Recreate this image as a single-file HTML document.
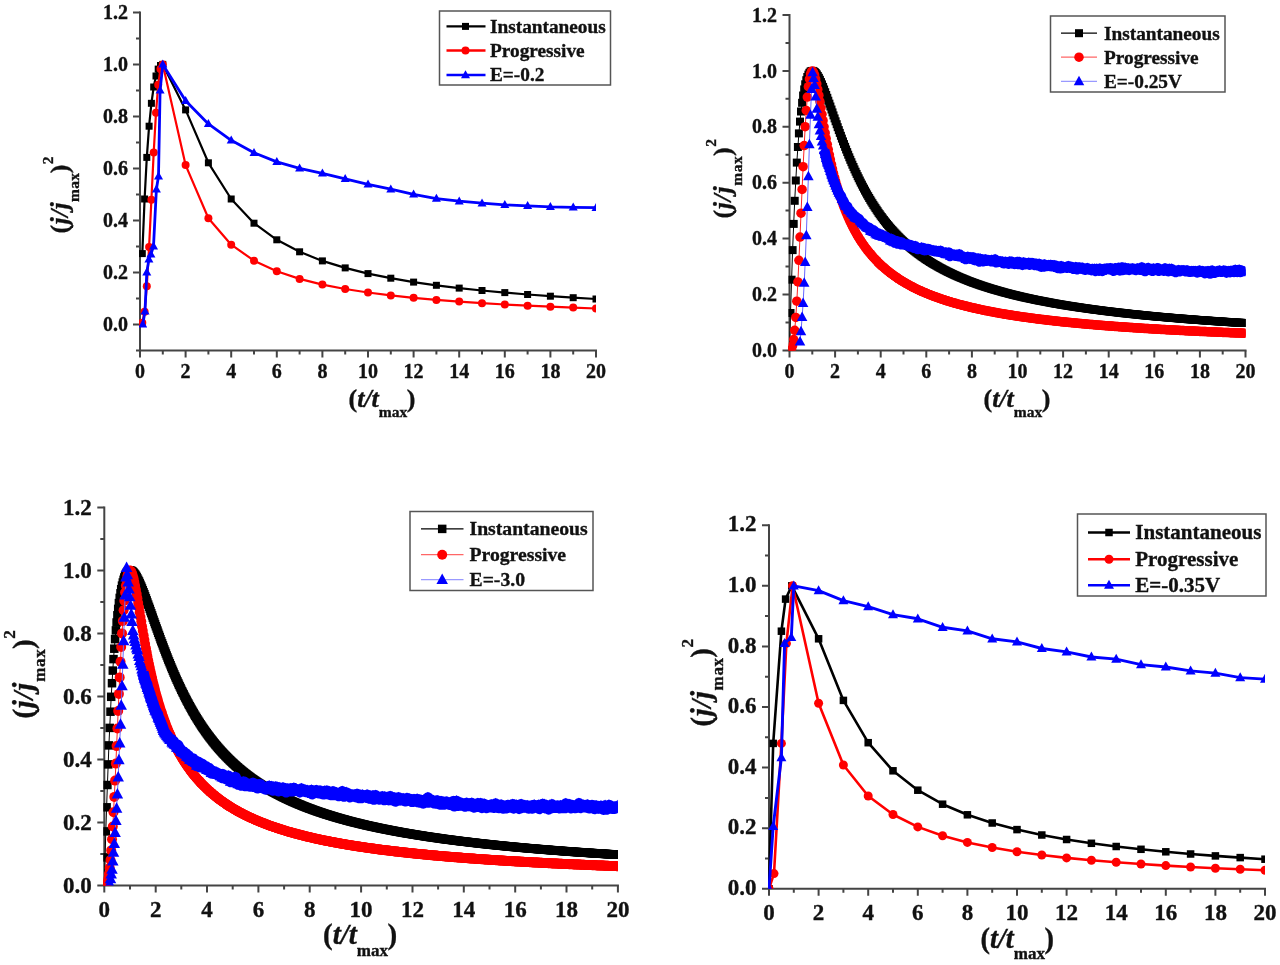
<!DOCTYPE html>
<html><head><meta charset="utf-8"><style>
html,body{margin:0;padding:0;background:#fff;width:1280px;height:965px;overflow:hidden}
svg{display:block;filter:blur(0.5px)}
text{fill:#111;stroke:#111;stroke-width:0.35px}
</style></head><body>
<svg width="1280" height="965" viewBox="0 0 1280 965">
<rect width="1280" height="965" fill="#fff"/>
<marker id="sq1" markerUnits="userSpaceOnUse" markerWidth="9" markerHeight="9" refX="4.5" refY="4.5" overflow="visible"><rect x="1" y="1" width="7" height="7" fill="#000"/></marker><marker id="ci1" markerUnits="userSpaceOnUse" markerWidth="10" markerHeight="10" refX="5.0" refY="5.0" overflow="visible"><circle cx="5.0" cy="5.0" r="4.0" fill="#f00"/></marker><marker id="tr1" markerUnits="userSpaceOnUse" markerWidth="11" markerHeight="10" refX="5.5" refY="5.8" overflow="visible"><path d="M5.5,1 L10,9 L1,9Z" fill="#00f"/></marker><path d="M140,11.399999999999977 V350.4 H597.0" fill="none" stroke="#444" stroke-width="2"/><path d="M140,324.4h-7 M140,298.4h-4 M140,272.4h-7 M140,246.4h-4 M140,220.4h-7 M140,194.4h-4 M140,168.4h-7 M140,142.4h-4 M140,116.4h-7 M140,90.4h-4 M140,64.4h-7 M140,38.4h-4 M140,12.4h-7 M140,350.4h-4 M140.0,350.4v7 M162.8,350.4v4 M185.6,350.4v7 M208.4,350.4v4 M231.2,350.4v7 M254.0,350.4v4 M276.8,350.4v7 M299.6,350.4v4 M322.4,350.4v7 M345.2,350.4v4 M368.0,350.4v7 M390.8,350.4v4 M413.6,350.4v7 M436.4,350.4v4 M459.2,350.4v7 M482.0,350.4v4 M504.8,350.4v7 M527.6,350.4v4 M550.4,350.4v7 M573.2,350.4v4 M596.0,350.4v7" stroke="#444" stroke-width="2" fill="none"/><text x="128" y="331.0" text-anchor="end" style="font-family:'Liberation Serif',serif;font-weight:bold;font-size:20px">0.0</text><text x="128" y="279.0" text-anchor="end" style="font-family:'Liberation Serif',serif;font-weight:bold;font-size:20px">0.2</text><text x="128" y="227.0" text-anchor="end" style="font-family:'Liberation Serif',serif;font-weight:bold;font-size:20px">0.4</text><text x="128" y="175.0" text-anchor="end" style="font-family:'Liberation Serif',serif;font-weight:bold;font-size:20px">0.6</text><text x="128" y="123.0" text-anchor="end" style="font-family:'Liberation Serif',serif;font-weight:bold;font-size:20px">0.8</text><text x="128" y="71.0" text-anchor="end" style="font-family:'Liberation Serif',serif;font-weight:bold;font-size:20px">1.0</text><text x="128" y="19.0" text-anchor="end" style="font-family:'Liberation Serif',serif;font-weight:bold;font-size:20px">1.2</text><text x="140.0" y="377.9" text-anchor="middle" style="font-family:'Liberation Serif',serif;font-weight:bold;font-size:20px">0</text><text x="185.6" y="377.9" text-anchor="middle" style="font-family:'Liberation Serif',serif;font-weight:bold;font-size:20px">2</text><text x="231.2" y="377.9" text-anchor="middle" style="font-family:'Liberation Serif',serif;font-weight:bold;font-size:20px">4</text><text x="276.8" y="377.9" text-anchor="middle" style="font-family:'Liberation Serif',serif;font-weight:bold;font-size:20px">6</text><text x="322.4" y="377.9" text-anchor="middle" style="font-family:'Liberation Serif',serif;font-weight:bold;font-size:20px">8</text><text x="368.0" y="377.9" text-anchor="middle" style="font-family:'Liberation Serif',serif;font-weight:bold;font-size:20px">10</text><text x="413.6" y="377.9" text-anchor="middle" style="font-family:'Liberation Serif',serif;font-weight:bold;font-size:20px">12</text><text x="459.2" y="377.9" text-anchor="middle" style="font-family:'Liberation Serif',serif;font-weight:bold;font-size:20px">14</text><text x="504.8" y="377.9" text-anchor="middle" style="font-family:'Liberation Serif',serif;font-weight:bold;font-size:20px">16</text><text x="550.4" y="377.9" text-anchor="middle" style="font-family:'Liberation Serif',serif;font-weight:bold;font-size:20px">18</text><text x="596.0" y="377.9" text-anchor="middle" style="font-family:'Liberation Serif',serif;font-weight:bold;font-size:20px">20</text><text x="348.5" y="406.5" style="font-family:'Liberation Serif',serif;font-weight:bold;font-size:26px">(<tspan style="font-style:italic">t/t</tspan><tspan dy="10.5" style="font-size:15.5px">max</tspan><tspan dy="-10.5" dx="-0.5">)</tspan></text><text transform="translate(68,233.5) rotate(-90)" style="font-family:'Liberation Serif',serif;font-weight:bold;font-size:26px;letter-spacing:0.3px">(<tspan style="font-style:italic">j/j</tspan><tspan dy="10.5" style="font-size:15.5px">max</tspan><tspan dy="-10.5" dx="-0.5">)</tspan><tspan dy="-15" style="font-size:15.5px">2</tspan></text><clipPath id="cp1"><rect x="139" y="12.399999999999977" width="457.0" height="338.0"/></clipPath><g clip-path="url(#cp1)"><polyline points="142.3,253.6 144.6,199.0 146.8,157.4 149.1,126.2 151.4,103.3 153.7,87.0 156.0,76.0 158.2,69.1 160.5,65.5 162.8,64.4 185.6,109.9 208.4,162.8 231.2,199.0 254.0,223.2 276.8,239.8 299.6,251.8 322.4,260.9 345.2,267.9 368.0,273.6 390.8,278.2 413.6,282.1 436.4,285.3 459.2,288.1 482.0,290.5 504.8,292.6 527.6,294.5 550.4,296.2 573.2,297.7 596.0,299.0" fill="none" stroke="#000" stroke-width="2.2" stroke-linejoin="round" marker-start="url(#sq1)" marker-mid="url(#sq1)" marker-end="url(#sq1)"/><polyline points="142.3,322.7 144.6,311.7 146.8,286.2 149.1,246.9 151.4,199.7 153.7,152.6 156.0,112.8 158.2,84.7 160.5,69.0 162.8,64.4 185.6,165.1 208.4,218.2 231.2,244.7 254.0,260.7 276.8,271.3 299.6,278.9 322.4,284.6 345.2,289.0 368.0,292.5 390.8,295.4 413.6,297.8 436.4,299.9 459.2,301.6 482.0,303.2 504.8,304.5 527.6,305.7 550.4,306.7 573.2,307.6 596.0,308.5" fill="none" stroke="#f00" stroke-width="2.2" stroke-linejoin="round" marker-start="url(#ci1)" marker-mid="url(#ci1)" marker-end="url(#ci1)"/><polyline points="142.7,324.4 145.0,311.4 146.8,272.4 148.9,259.4 150.9,254.2 153.5,246.4 156.4,189.2 158.5,176.2 160.1,90.4 162.8,64.4 185.6,100.8 208.4,123.9 231.2,140.3 254.0,152.8 276.8,161.9 299.6,168.4 322.4,173.3 345.2,178.8 368.0,184.3 390.8,189.2 413.6,194.4 436.4,198.6 459.2,201.2 482.0,203.2 504.8,204.8 527.6,205.8 550.4,206.9 573.2,207.4 596.0,207.7" fill="none" stroke="#00f" stroke-width="2.8" stroke-linejoin="round" marker-start="url(#tr1)" marker-mid="url(#tr1)" marker-end="url(#tr1)"/></g><rect x="439.5" y="11" width="171.0" height="74" fill="#fff" stroke="#555" stroke-width="1.5"/><path d="M446.5,26.4 H485.5" stroke="#000" stroke-width="2.4"/><polyline points="465.5,26.4 465.5,26.4" fill="none" stroke="none" marker-start="url(#sq1)"/><text x="490" y="32.8" style="font-family:'Liberation Serif',serif;font-weight:bold;font-size:19.3px">Instantaneous</text><path d="M446.5,50.5 H485.5" stroke="#f00" stroke-width="2.4"/><polyline points="465.5,50.5 465.5,50.5" fill="none" stroke="none" marker-start="url(#ci1)"/><text x="490" y="56.9" style="font-family:'Liberation Serif',serif;font-weight:bold;font-size:19.3px">Progressive</text><path d="M446.5,75 H485.5" stroke="#00f" stroke-width="2.4"/><polyline points="465.5,75 465.5,75" fill="none" stroke="none" marker-start="url(#tr1)"/><text x="490" y="81.4" style="font-family:'Liberation Serif',serif;font-weight:bold;font-size:19.3px">E=-0.2</text><marker id="sq2" markerUnits="userSpaceOnUse" markerWidth="10" markerHeight="10" refX="5.0" refY="5.0" overflow="visible"><rect x="1" y="1" width="8" height="8" fill="#000"/></marker><marker id="ci2" markerUnits="userSpaceOnUse" markerWidth="11.5" markerHeight="11.5" refX="5.75" refY="5.75" overflow="visible"><circle cx="5.75" cy="5.75" r="4.75" fill="#f00"/></marker><marker id="tr2" markerUnits="userSpaceOnUse" markerWidth="12.5" markerHeight="11.5" refX="6.25" refY="6.7" overflow="visible"><path d="M6.25,1 L11.5,10.5 L1,10.5Z" fill="#00f"/></marker><path d="M789.5,14.0 V350.4 H1246.5" fill="none" stroke="#444" stroke-width="2"/><path d="M789.5,350.4h-7 M789.5,322.4h-4 M789.5,294.5h-7 M789.5,266.5h-4 M789.5,238.6h-7 M789.5,210.6h-4 M789.5,182.7h-7 M789.5,154.7h-4 M789.5,126.8h-7 M789.5,98.8h-4 M789.5,70.9h-7 M789.5,42.9h-4 M789.5,15.0h-7 M789.5,350.4v7 M812.3,350.4v4 M835.1,350.4v7 M857.9,350.4v4 M880.7,350.4v7 M903.5,350.4v4 M926.3,350.4v7 M949.1,350.4v4 M971.9,350.4v7 M994.7,350.4v4 M1017.5,350.4v7 M1040.3,350.4v4 M1063.1,350.4v7 M1085.9,350.4v4 M1108.7,350.4v7 M1131.5,350.4v4 M1154.3,350.4v7 M1177.1,350.4v4 M1199.9,350.4v7 M1222.7,350.4v4 M1245.5,350.4v7" stroke="#444" stroke-width="2" fill="none"/><text x="777.0" y="357.0" text-anchor="end" style="font-family:'Liberation Serif',serif;font-weight:bold;font-size:20px">0.0</text><text x="777.0" y="301.1" text-anchor="end" style="font-family:'Liberation Serif',serif;font-weight:bold;font-size:20px">0.2</text><text x="777.0" y="245.2" text-anchor="end" style="font-family:'Liberation Serif',serif;font-weight:bold;font-size:20px">0.4</text><text x="777.0" y="189.3" text-anchor="end" style="font-family:'Liberation Serif',serif;font-weight:bold;font-size:20px">0.6</text><text x="777.0" y="133.4" text-anchor="end" style="font-family:'Liberation Serif',serif;font-weight:bold;font-size:20px">0.8</text><text x="777.0" y="77.5" text-anchor="end" style="font-family:'Liberation Serif',serif;font-weight:bold;font-size:20px">1.0</text><text x="777.0" y="21.6" text-anchor="end" style="font-family:'Liberation Serif',serif;font-weight:bold;font-size:20px">1.2</text><text x="789.5" y="378.4" text-anchor="middle" style="font-family:'Liberation Serif',serif;font-weight:bold;font-size:20px">0</text><text x="835.1" y="378.4" text-anchor="middle" style="font-family:'Liberation Serif',serif;font-weight:bold;font-size:20px">2</text><text x="880.7" y="378.4" text-anchor="middle" style="font-family:'Liberation Serif',serif;font-weight:bold;font-size:20px">4</text><text x="926.3" y="378.4" text-anchor="middle" style="font-family:'Liberation Serif',serif;font-weight:bold;font-size:20px">6</text><text x="971.9" y="378.4" text-anchor="middle" style="font-family:'Liberation Serif',serif;font-weight:bold;font-size:20px">8</text><text x="1017.5" y="378.4" text-anchor="middle" style="font-family:'Liberation Serif',serif;font-weight:bold;font-size:20px">10</text><text x="1063.1" y="378.4" text-anchor="middle" style="font-family:'Liberation Serif',serif;font-weight:bold;font-size:20px">12</text><text x="1108.7" y="378.4" text-anchor="middle" style="font-family:'Liberation Serif',serif;font-weight:bold;font-size:20px">14</text><text x="1154.3" y="378.4" text-anchor="middle" style="font-family:'Liberation Serif',serif;font-weight:bold;font-size:20px">16</text><text x="1199.9" y="378.4" text-anchor="middle" style="font-family:'Liberation Serif',serif;font-weight:bold;font-size:20px">18</text><text x="1245.5" y="378.4" text-anchor="middle" style="font-family:'Liberation Serif',serif;font-weight:bold;font-size:20px">20</text><text x="983.5" y="406.5" style="font-family:'Liberation Serif',serif;font-weight:bold;font-size:26px">(<tspan style="font-style:italic">t/t</tspan><tspan dy="10.5" style="font-size:15.5px">max</tspan><tspan dy="-10.5" dx="-0.5">)</tspan></text><text transform="translate(731,218.5) rotate(-90)" style="font-family:'Liberation Serif',serif;font-weight:bold;font-size:26px;letter-spacing:0.6px">(<tspan style="font-style:italic">j/j</tspan><tspan dy="10.5" style="font-size:15.5px">max</tspan><tspan dy="-10.5" dx="-0.5">)</tspan><tspan dy="-15" style="font-size:15.5px">2</tspan></text><clipPath id="cp2"><rect x="788.5" y="15.0" width="457.0" height="335.4"/></clipPath><g clip-path="url(#cp2)"><polyline points="789.5,350.4 790.5,313.0 791.6,279.7 792.6,250.1 793.7,223.9 794.7,200.8 795.8,180.5 796.8,162.6 797.9,147.0 798.9,133.4 800.0,121.6 801.0,111.5 802.1,102.8 803.1,95.5 804.2,89.4 805.2,84.3 806.3,80.2 807.3,77.0 808.4,74.6 809.4,72.8 810.5,71.6 811.5,71.0 812.6,70.9 813.6,71.3 814.7,72.0 815.7,73.0 816.8,74.4 817.8,76.0 818.9,77.8 819.9,79.8 821.0,82.1 822.0,84.4 823.1,86.9 824.1,89.5 825.2,92.2 826.2,95.0 827.3,97.8 828.3,100.7 829.4,103.6 830.4,106.5 831.5,109.5 832.5,112.4 833.5,115.4 834.6,118.4 835.6,121.3 836.7,124.2 837.7,127.2 838.8,130.1 839.8,132.9 840.9,135.8 841.9,138.6 843.0,141.4 844.0,144.1 845.1,146.8 846.1,149.5 847.2,152.1 848.2,154.7 849.3,157.3 850.3,159.8 851.4,162.2 852.4,164.7 853.5,167.0 854.5,169.4 855.6,171.7 856.6,173.9 857.7,176.2 858.7,178.3 859.8,180.5 860.8,182.6 861.9,184.6 862.9,186.7 864.0,188.6 865.0,190.6 866.1,192.5 867.1,194.4 868.2,196.2 869.2,198.0 870.3,199.8 871.3,201.5 872.4,203.2 873.4,204.9 874.5,206.5 875.5,208.1 876.6,209.7 877.6,211.2 878.6,212.8 879.7,214.2 880.7,215.7 881.8,217.1 882.8,218.5 883.9,219.9 884.9,221.3 886.0,222.6 887.0,223.9 888.1,225.2 889.1,226.4 890.2,227.7 891.2,228.9 892.3,230.1 893.3,231.2 894.4,232.4 895.4,233.5 896.5,234.6 897.5,235.7 898.6,236.8 899.6,237.8 900.7,238.9 901.7,239.9 902.8,240.9 903.8,241.9 904.9,242.8 905.9,243.8 907.0,244.7 908.0,245.6 909.1,246.5 910.1,247.4 911.2,248.3 912.2,249.1 913.3,250.0 914.3,250.8 915.4,251.6 916.4,252.4 917.5,253.2 918.5,254.0 919.6,254.8 920.6,255.5 921.6,256.3 922.7,257.0 923.7,257.7 924.8,258.5 925.8,259.2 926.9,259.9 927.9,260.5 929.0,261.2 930.0,261.9 931.1,262.5 932.1,263.2 933.2,263.8 934.2,264.4 935.3,265.0 936.3,265.6 937.4,266.2 938.4,266.8 939.5,267.4 940.5,268.0 941.6,268.5 942.6,269.1 943.7,269.7 944.7,270.2 945.8,270.7 946.8,271.3 947.9,271.8 948.9,272.3 950.0,272.8 951.0,273.3 952.1,273.8 953.1,274.3 954.2,274.8 955.2,275.3 956.3,275.7 957.3,276.2 958.4,276.7 959.4,277.1 960.5,277.6 961.5,278.0 962.6,278.4 963.6,278.9 964.6,279.3 965.7,279.7 966.7,280.1 967.8,280.6 968.8,281.0 969.9,281.4 970.9,281.8 972.0,282.2 973.0,282.6 974.1,282.9 975.1,283.3 976.2,283.7 977.2,284.1 978.3,284.4 979.3,284.8 980.4,285.2 981.4,285.5 982.5,285.9 983.5,286.2 984.6,286.6 985.6,286.9 986.7,287.2 987.7,287.6 988.8,287.9 989.8,288.2 990.9,288.6 991.9,288.9 993.0,289.2 994.0,289.5 995.1,289.8 996.1,290.1 997.2,290.4 998.2,290.7 999.3,291.0 1000.3,291.3 1001.4,291.6 1002.4,291.9 1003.5,292.2 1004.5,292.5 1005.6,292.8 1006.6,293.0 1007.7,293.3 1008.7,293.6 1009.7,293.9 1010.8,294.1 1011.8,294.4 1012.9,294.7 1013.9,294.9 1015.0,295.2 1016.0,295.4 1017.1,295.7 1018.1,295.9 1019.2,296.2 1020.2,296.4 1021.3,296.7 1022.3,296.9 1023.4,297.2 1024.4,297.4 1025.5,297.6 1026.5,297.9 1027.6,298.1 1028.6,298.3 1029.7,298.5 1030.7,298.8 1031.8,299.0 1032.8,299.2 1033.9,299.4 1034.9,299.7 1036.0,299.9 1037.0,300.1 1038.1,300.3 1039.1,300.5 1040.2,300.7 1041.2,300.9 1042.3,301.1 1043.3,301.3 1044.4,301.5 1045.4,301.7 1046.5,301.9 1047.5,302.1 1048.6,302.3 1049.6,302.5 1050.7,302.7 1051.7,302.9 1052.7,303.1 1053.8,303.3 1054.8,303.5 1055.9,303.7 1056.9,303.8 1058.0,304.0 1059.0,304.2 1060.1,304.4 1061.1,304.6 1062.2,304.7 1063.2,304.9 1064.3,305.1 1065.3,305.3 1066.4,305.4 1067.4,305.6 1068.5,305.8 1069.5,305.9 1070.6,306.1 1071.6,306.3 1072.7,306.4 1073.7,306.6 1074.8,306.7 1075.8,306.9 1076.9,307.1 1077.9,307.2 1079.0,307.4 1080.0,307.5 1081.1,307.7 1082.1,307.8 1083.2,308.0 1084.2,308.1 1085.3,308.3 1086.3,308.4 1087.4,308.6 1088.4,308.7 1089.5,308.9 1090.5,309.0 1091.6,309.2 1092.6,309.3 1093.7,309.5 1094.7,309.6 1095.7,309.7 1096.8,309.9 1097.8,310.0 1098.9,310.1 1099.9,310.3 1101.0,310.4 1102.0,310.6 1103.1,310.7 1104.1,310.8 1105.2,311.0 1106.2,311.1 1107.3,311.2 1108.3,311.3 1109.4,311.5 1110.4,311.6 1111.5,311.7 1112.5,311.8 1113.6,312.0 1114.6,312.1 1115.7,312.2 1116.7,312.3 1117.8,312.5 1118.8,312.6 1119.9,312.7 1120.9,312.8 1122.0,312.9 1123.0,313.1 1124.1,313.2 1125.1,313.3 1126.2,313.4 1127.2,313.5 1128.3,313.6 1129.3,313.8 1130.4,313.9 1131.4,314.0 1132.5,314.1 1133.5,314.2 1134.6,314.3 1135.6,314.4 1136.7,314.5 1137.7,314.6 1138.8,314.7 1139.8,314.8 1140.8,315.0 1141.9,315.1 1142.9,315.2 1144.0,315.3 1145.0,315.4 1146.1,315.5 1147.1,315.6 1148.2,315.7 1149.2,315.8 1150.3,315.9 1151.3,316.0 1152.4,316.1 1153.4,316.2 1154.5,316.3 1155.5,316.4 1156.6,316.5 1157.6,316.6 1158.7,316.7 1159.7,316.8 1160.8,316.9 1161.8,317.0 1162.9,317.0 1163.9,317.1 1165.0,317.2 1166.0,317.3 1167.1,317.4 1168.1,317.5 1169.2,317.6 1170.2,317.7 1171.3,317.8 1172.3,317.9 1173.4,318.0 1174.4,318.0 1175.5,318.1 1176.5,318.2 1177.6,318.3 1178.6,318.4 1179.7,318.5 1180.7,318.6 1181.8,318.7 1182.8,318.7 1183.8,318.8 1184.9,318.9 1185.9,319.0 1187.0,319.1 1188.0,319.2 1189.1,319.2 1190.1,319.3 1191.2,319.4 1192.2,319.5 1193.3,319.6 1194.3,319.6 1195.4,319.7 1196.4,319.8 1197.5,319.9 1198.5,320.0 1199.6,320.0 1200.6,320.1 1201.7,320.2 1202.7,320.3 1203.8,320.3 1204.8,320.4 1205.9,320.5 1206.9,320.6 1208.0,320.6 1209.0,320.7 1210.1,320.8 1211.1,320.9 1212.2,320.9 1213.2,321.0 1214.3,321.1 1215.3,321.2 1216.4,321.2 1217.4,321.3 1218.5,321.4 1219.5,321.4 1220.6,321.5 1221.6,321.6 1222.7,321.6 1223.7,321.7 1224.8,321.8 1225.8,321.9 1226.8,321.9 1227.9,322.0 1228.9,322.1 1230.0,322.1 1231.0,322.2 1232.1,322.3 1233.1,322.3 1234.2,322.4 1235.2,322.5 1236.3,322.5 1237.3,322.6 1238.4,322.7 1239.4,322.7 1240.5,322.8 1241.5,322.9 1242.6,322.9 1243.6,323.0 1244.7,323.0" fill="none" stroke="#000" stroke-width="1" stroke-linejoin="round" marker-start="url(#sq2)" marker-mid="url(#sq2)" marker-end="url(#sq2)"/><polyline points="789.5,350.4 790.5,350.2 791.6,349.0 792.6,345.7 793.7,339.6 794.7,330.3 795.8,317.4 796.8,301.2 797.9,281.9 798.9,260.3 800.0,237.1 801.0,213.2 802.1,189.4 803.1,166.7 804.2,145.6 805.2,126.7 806.3,110.5 807.3,97.1 808.4,86.7 809.4,79.0 810.5,74.0 811.5,71.4 812.6,71.0 813.6,72.3 814.7,75.1 815.7,79.1 816.8,83.9 817.8,89.4 818.9,95.4 819.9,101.6 821.0,108.0 822.0,114.3 823.1,120.7 824.1,126.8 825.2,132.9 826.2,138.7 827.3,144.3 828.3,149.6 829.4,154.8 830.4,159.7 831.5,164.4 832.5,168.9 833.5,173.2 834.6,177.3 835.6,181.2 836.7,185.0 837.7,188.5 838.8,192.0 839.8,195.3 840.9,198.5 841.9,201.5 843.0,204.4 844.0,207.2 845.1,209.9 846.1,212.5 847.2,215.0 848.2,217.4 849.3,219.8 850.3,222.0 851.4,224.2 852.4,226.3 853.5,228.3 854.5,230.3 855.6,232.2 856.6,234.1 857.7,235.9 858.7,237.6 859.8,239.3 860.8,240.9 861.9,242.5 862.9,244.0 864.0,245.5 865.0,247.0 866.1,248.4 867.1,249.8 868.2,251.1 869.2,252.4 870.3,253.7 871.3,254.9 872.4,256.2 873.4,257.3 874.5,258.5 875.5,259.6 876.6,260.7 877.6,261.8 878.6,262.8 879.7,263.8 880.7,264.8 881.8,265.8 882.8,266.7 883.9,267.7 884.9,268.6 886.0,269.5 887.0,270.3 888.1,271.2 889.1,272.0 890.2,272.8 891.2,273.6 892.3,274.4 893.3,275.2 894.4,275.9 895.4,276.7 896.5,277.4 897.5,278.1 898.6,278.8 899.6,279.5 900.7,280.2 901.7,280.8 902.8,281.5 903.8,282.1 904.9,282.7 905.9,283.3 907.0,283.9 908.0,284.5 909.1,285.1 910.1,285.7 911.2,286.2 912.2,286.8 913.3,287.3 914.3,287.8 915.4,288.4 916.4,288.9 917.5,289.4 918.5,289.9 919.6,290.4 920.6,290.8 921.6,291.3 922.7,291.8 923.7,292.2 924.8,292.7 925.8,293.1 926.9,293.6 927.9,294.0 929.0,294.4 930.0,294.8 931.1,295.2 932.1,295.7 933.2,296.1 934.2,296.4 935.3,296.8 936.3,297.2 937.4,297.6 938.4,298.0 939.5,298.3 940.5,298.7 941.6,299.1 942.6,299.4 943.7,299.7 944.7,300.1 945.8,300.4 946.8,300.8 947.9,301.1 948.9,301.4 950.0,301.7 951.0,302.1 952.1,302.4 953.1,302.7 954.2,303.0 955.2,303.3 956.3,303.6 957.3,303.9 958.4,304.2 959.4,304.4 960.5,304.7 961.5,305.0 962.6,305.3 963.6,305.5 964.6,305.8 965.7,306.1 966.7,306.3 967.8,306.6 968.8,306.9 969.9,307.1 970.9,307.4 972.0,307.6 973.0,307.9 974.1,308.1 975.1,308.3 976.2,308.6 977.2,308.8 978.3,309.0 979.3,309.3 980.4,309.5 981.4,309.7 982.5,309.9 983.5,310.2 984.6,310.4 985.6,310.6 986.7,310.8 987.7,311.0 988.8,311.2 989.8,311.4 990.9,311.6 991.9,311.8 993.0,312.0 994.0,312.2 995.1,312.4 996.1,312.6 997.2,312.8 998.2,313.0 999.3,313.2 1000.3,313.4 1001.4,313.5 1002.4,313.7 1003.5,313.9 1004.5,314.1 1005.6,314.3 1006.6,314.4 1007.7,314.6 1008.7,314.8 1009.7,314.9 1010.8,315.1 1011.8,315.3 1012.9,315.4 1013.9,315.6 1015.0,315.8 1016.0,315.9 1017.1,316.1 1018.1,316.2 1019.2,316.4 1020.2,316.6 1021.3,316.7 1022.3,316.9 1023.4,317.0 1024.4,317.2 1025.5,317.3 1026.5,317.5 1027.6,317.6 1028.6,317.7 1029.7,317.9 1030.7,318.0 1031.8,318.2 1032.8,318.3 1033.9,318.4 1034.9,318.6 1036.0,318.7 1037.0,318.9 1038.1,319.0 1039.1,319.1 1040.2,319.2 1041.2,319.4 1042.3,319.5 1043.3,319.6 1044.4,319.8 1045.4,319.9 1046.5,320.0 1047.5,320.1 1048.6,320.3 1049.6,320.4 1050.7,320.5 1051.7,320.6 1052.7,320.7 1053.8,320.9 1054.8,321.0 1055.9,321.1 1056.9,321.2 1058.0,321.3 1059.0,321.4 1060.1,321.5 1061.1,321.7 1062.2,321.8 1063.2,321.9 1064.3,322.0 1065.3,322.1 1066.4,322.2 1067.4,322.3 1068.5,322.4 1069.5,322.5 1070.6,322.6 1071.6,322.7 1072.7,322.8 1073.7,322.9 1074.8,323.0 1075.8,323.1 1076.9,323.2 1077.9,323.3 1079.0,323.4 1080.0,323.5 1081.1,323.6 1082.1,323.7 1083.2,323.8 1084.2,323.9 1085.3,324.0 1086.3,324.1 1087.4,324.2 1088.4,324.3 1089.5,324.4 1090.5,324.5 1091.6,324.5 1092.6,324.6 1093.7,324.7 1094.7,324.8 1095.7,324.9 1096.8,325.0 1097.8,325.1 1098.9,325.2 1099.9,325.2 1101.0,325.3 1102.0,325.4 1103.1,325.5 1104.1,325.6 1105.2,325.7 1106.2,325.7 1107.3,325.8 1108.3,325.9 1109.4,326.0 1110.4,326.1 1111.5,326.1 1112.5,326.2 1113.6,326.3 1114.6,326.4 1115.7,326.5 1116.7,326.5 1117.8,326.6 1118.8,326.7 1119.9,326.8 1120.9,326.8 1122.0,326.9 1123.0,327.0 1124.1,327.1 1125.1,327.1 1126.2,327.2 1127.2,327.3 1128.3,327.3 1129.3,327.4 1130.4,327.5 1131.4,327.6 1132.5,327.6 1133.5,327.7 1134.6,327.8 1135.6,327.8 1136.7,327.9 1137.7,328.0 1138.8,328.0 1139.8,328.1 1140.8,328.2 1141.9,328.2 1142.9,328.3 1144.0,328.4 1145.0,328.4 1146.1,328.5 1147.1,328.6 1148.2,328.6 1149.2,328.7 1150.3,328.8 1151.3,328.8 1152.4,328.9 1153.4,328.9 1154.5,329.0 1155.5,329.1 1156.6,329.1 1157.6,329.2 1158.7,329.2 1159.7,329.3 1160.8,329.4 1161.8,329.4 1162.9,329.5 1163.9,329.5 1165.0,329.6 1166.0,329.7 1167.1,329.7 1168.1,329.8 1169.2,329.8 1170.2,329.9 1171.3,329.9 1172.3,330.0 1173.4,330.1 1174.4,330.1 1175.5,330.2 1176.5,330.2 1177.6,330.3 1178.6,330.3 1179.7,330.4 1180.7,330.4 1181.8,330.5 1182.8,330.5 1183.8,330.6 1184.9,330.7 1185.9,330.7 1187.0,330.8 1188.0,330.8 1189.1,330.9 1190.1,330.9 1191.2,331.0 1192.2,331.0 1193.3,331.1 1194.3,331.1 1195.4,331.2 1196.4,331.2 1197.5,331.3 1198.5,331.3 1199.6,331.4 1200.6,331.4 1201.7,331.5 1202.7,331.5 1203.8,331.6 1204.8,331.6 1205.9,331.6 1206.9,331.7 1208.0,331.7 1209.0,331.8 1210.1,331.8 1211.1,331.9 1212.2,331.9 1213.2,332.0 1214.3,332.0 1215.3,332.1 1216.4,332.1 1217.4,332.2 1218.5,332.2 1219.5,332.2 1220.6,332.3 1221.6,332.3 1222.7,332.4 1223.7,332.4 1224.8,332.5 1225.8,332.5 1226.8,332.5 1227.9,332.6 1228.9,332.6 1230.0,332.7 1231.0,332.7 1232.1,332.8 1233.1,332.8 1234.2,332.8 1235.2,332.9 1236.3,332.9 1237.3,333.0 1238.4,333.0 1239.4,333.0 1240.5,333.1 1241.5,333.1 1242.6,333.2 1243.6,333.2 1244.7,333.2" fill="none" stroke="#f22" stroke-width="1" stroke-linejoin="round" marker-start="url(#ci2)" marker-mid="url(#ci2)" marker-end="url(#ci2)"/><polyline points="824.1,150.3 825.2,154.2 826.2,158.3 827.3,162.8 828.3,164.8 829.4,168.3 830.4,171.1 831.5,174.8 832.5,177.7 833.5,180.4 834.6,183.1 835.6,185.6 836.7,188.3 837.7,190.7 838.8,193.0 839.8,194.8 840.9,196.0 841.9,199.1 843.0,200.6 844.0,202.6 845.1,205.6 846.1,206.0 847.2,206.6 848.2,209.9 849.3,210.2 850.3,211.4 851.4,213.2 852.4,213.6 853.5,215.3 854.5,217.4 855.6,216.7 856.6,217.7 857.7,218.4 858.7,218.9 859.8,220.6 860.8,221.6 861.9,223.5 862.9,223.1 864.0,224.8 865.0,225.6 866.1,227.0 867.1,227.7 868.2,228.2 869.2,227.8 870.3,230.9 871.3,231.1 872.4,230.5 873.4,230.2 874.5,231.4 875.5,233.7 876.6,234.7 877.6,233.2 878.6,234.6 879.7,235.4 880.7,234.5 881.8,234.9 882.8,236.1 883.9,236.6 884.9,237.1 886.0,236.8 887.0,237.9 888.1,238.3 889.1,238.7 890.2,240.6 891.2,239.0 892.3,239.6 893.3,240.3 894.4,242.4 895.4,241.9 896.5,241.2 897.5,243.5 898.6,242.7 899.6,242.3 900.7,244.3 901.7,242.6 902.8,243.7 903.8,244.4 904.9,244.4 905.9,244.4 907.0,245.1 908.0,244.6 909.1,246.2 910.1,246.3 911.2,245.5 912.2,246.5 913.3,247.4 914.3,246.4 915.4,246.3 916.4,248.0 917.5,248.9 918.5,248.3 919.6,248.5 920.6,248.8 921.6,247.8 922.7,249.6 923.7,248.2 924.8,250.2 925.8,250.0 926.9,249.2 927.9,249.1 929.0,249.4 930.0,250.0 931.1,250.3 932.1,250.5 933.2,250.4 934.2,251.2 935.3,251.0 936.3,251.0 937.4,251.6 938.4,251.3 939.5,251.7 940.5,250.9 941.6,252.3 942.6,253.0 943.7,253.2 944.7,253.2 945.8,252.7 946.8,253.8 947.9,253.5 948.9,252.7 950.0,256.0 951.0,255.2 952.1,254.5 953.1,254.6 954.2,254.9 955.2,255.6 956.3,255.0 957.3,255.5 958.4,256.2 959.4,254.4 960.5,256.0 961.5,256.8 962.6,256.7 963.6,257.0 964.6,257.1 965.7,259.1 966.7,257.8 967.8,256.9 968.8,258.6 969.9,258.0 970.9,257.5 972.0,257.8 973.0,257.5 974.1,259.9 975.1,259.1 976.2,259.3 977.2,258.8 978.3,258.7 979.3,261.5 980.4,259.0 981.4,260.9 982.5,259.6 983.5,261.3 984.6,260.2 985.6,259.6 986.7,260.7 987.7,260.6 988.8,260.2 989.8,260.8 990.9,261.1 991.9,260.1 993.0,260.5 994.0,261.5 995.1,259.5 996.1,262.3 997.2,261.0 998.2,261.9 999.3,261.7 1000.3,261.4 1001.4,261.9 1002.4,261.7 1003.5,263.3 1004.5,263.3 1005.6,261.9 1006.6,263.1 1007.7,263.3 1008.7,263.7 1009.7,261.8 1010.8,262.3 1011.8,261.9 1012.9,263.6 1013.9,263.0 1015.0,263.9 1016.0,262.6 1017.1,262.1 1018.1,263.9 1019.2,262.2 1020.2,262.7 1021.3,263.6 1022.3,264.9 1023.4,262.6 1024.4,263.7 1025.5,264.2 1026.5,263.5 1027.6,263.6 1028.6,262.9 1029.7,264.8 1030.7,263.3 1031.8,263.2 1032.8,263.3 1033.9,264.5 1034.9,265.0 1036.0,263.9 1037.0,264.6 1038.1,264.7 1039.1,263.9 1040.2,265.1 1041.2,266.7 1042.3,265.4 1043.3,266.6 1044.4,264.8 1045.4,265.3 1046.5,266.0 1047.5,265.7 1048.6,265.2 1049.6,265.9 1050.7,265.1 1051.7,266.2 1052.7,265.6 1053.8,265.4 1054.8,265.4 1055.9,267.1 1056.9,266.1 1058.0,268.1 1059.0,267.6 1060.1,268.3 1061.1,266.2 1062.2,267.9 1063.2,267.2 1064.3,267.4 1065.3,267.3 1066.4,267.8 1067.4,267.3 1068.5,266.3 1069.5,267.6 1070.6,267.3 1071.6,267.1 1072.7,268.0 1073.7,268.8 1074.8,268.4 1075.8,267.3 1076.9,269.3 1077.9,268.7 1079.0,267.6 1080.0,267.8 1081.1,268.4 1082.1,267.9 1083.2,268.5 1084.2,269.5 1085.3,269.8 1086.3,269.2 1087.4,268.2 1088.4,269.3 1089.5,269.6 1090.5,269.5 1091.6,270.1 1092.6,269.2 1093.7,269.9 1094.7,268.9 1095.7,270.9 1096.8,269.0 1097.8,269.7 1098.9,270.7 1099.9,268.8 1101.0,269.5 1102.0,270.9 1103.1,270.0 1104.1,269.1 1105.2,269.7 1106.2,268.8 1107.3,268.8 1108.3,268.9 1109.4,269.1 1110.4,268.4 1111.5,268.9 1112.5,269.0 1113.6,270.8 1114.6,268.7 1115.7,268.4 1116.7,269.5 1117.8,269.6 1118.8,267.9 1119.9,270.5 1120.9,268.9 1122.0,267.6 1123.0,269.9 1124.1,268.8 1125.1,267.9 1126.2,269.3 1127.2,268.8 1128.3,268.6 1129.3,269.8 1130.4,269.3 1131.4,269.0 1132.5,268.6 1133.5,269.2 1134.6,269.3 1135.6,269.9 1136.7,269.4 1137.7,268.6 1138.8,269.1 1139.8,269.8 1140.8,269.8 1141.9,267.4 1142.9,268.5 1144.0,268.8 1145.0,271.1 1146.1,268.9 1147.1,269.0 1148.2,268.2 1149.2,269.1 1150.3,269.5 1151.3,269.1 1152.4,270.8 1153.4,268.8 1154.5,269.3 1155.5,270.1 1156.6,268.7 1157.6,268.4 1158.7,270.7 1159.7,270.2 1160.8,269.6 1161.8,269.7 1162.9,270.2 1163.9,270.6 1165.0,268.5 1166.0,269.3 1167.1,270.9 1168.1,271.1 1169.2,269.0 1170.2,269.6 1171.3,269.0 1172.3,269.8 1173.4,271.0 1174.4,270.3 1175.5,272.0 1176.5,271.1 1177.6,270.7 1178.6,270.3 1179.7,271.2 1180.7,270.9 1181.8,270.5 1182.8,270.6 1183.8,270.5 1184.9,270.9 1185.9,271.3 1187.0,270.5 1188.0,271.1 1189.1,271.8 1190.1,271.7 1191.2,271.3 1192.2,271.4 1193.3,271.3 1194.3,271.4 1195.4,271.3 1196.4,271.6 1197.5,272.4 1198.5,271.2 1199.6,270.8 1200.6,271.3 1201.7,271.8 1202.7,271.3 1203.8,272.3 1204.8,273.0 1205.9,271.7 1206.9,272.4 1208.0,271.2 1209.0,272.5 1210.1,273.6 1211.1,272.5 1212.2,270.7 1213.2,272.1 1214.3,272.8 1215.3,272.4 1216.4,271.5 1217.4,271.5 1218.5,271.7 1219.5,270.8 1220.6,271.3 1221.6,271.8 1222.7,271.4 1223.7,270.7 1224.8,271.1 1225.8,271.1 1226.8,272.5 1227.9,271.9 1228.9,271.3 1230.0,272.0 1231.0,271.0 1232.1,271.3 1233.1,271.1 1234.2,271.9 1235.2,270.0 1236.3,270.9 1237.3,271.9 1238.4,271.7 1239.4,269.9 1240.5,271.9 1241.5,271.1 1242.6,271.0 1243.6,271.7 1244.7,272.5" fill="none" stroke="#00f" stroke-width="10.5" stroke-linejoin="round" stroke-linecap="butt"/><polyline points="800.0,341.7 801.0,331.4 802.1,317.3 803.1,303.2 804.2,282.9 805.2,262.2 806.3,235.4 807.3,207.2 808.4,176.4 809.4,144.4 810.5,115.0 811.5,89.3 812.6,72.4 813.6,78.2 814.7,85.2 815.7,96.8 816.8,108.9 817.8,117.0 818.9,124.5 819.9,130.7 821.0,136.3 822.0,141.7 823.1,145.7 824.1,150.3 825.2,154.2 826.2,158.3 827.3,162.8 828.3,164.8 829.4,168.3 830.4,171.1 831.5,174.8 832.5,177.7 833.5,180.4 834.6,183.1 835.6,185.6 836.7,188.3 837.7,190.7 838.8,193.0 839.8,194.8 840.9,196.0 841.9,199.1 843.0,200.6 844.0,202.6 845.1,205.6 846.1,206.0 847.2,206.6 848.2,209.9 849.3,210.2 850.3,211.4 851.4,213.2 852.4,213.6 853.5,215.3 854.5,217.4 855.6,216.7 856.6,217.7 857.7,218.4 858.7,218.9 859.8,220.6 860.8,221.6 861.9,223.5 862.9,223.1 864.0,224.8 865.0,225.6 866.1,227.0 867.1,227.7 868.2,228.2 869.2,227.8 870.3,230.9 871.3,231.1 872.4,230.5 873.4,230.2 874.5,231.4 875.5,233.7 876.6,234.7 877.6,233.2 878.6,234.6 879.7,235.4 880.7,234.5 881.8,234.9 882.8,236.1 883.9,236.6 884.9,237.1 886.0,236.8 887.0,237.9 888.1,238.3 889.1,238.7 890.2,240.6 891.2,239.0 892.3,239.6 893.3,240.3 894.4,242.4 895.4,241.9 896.5,241.2 897.5,243.5 898.6,242.7 899.6,242.3 900.7,244.3 901.7,242.6 902.8,243.7 903.8,244.4 904.9,244.4 905.9,244.4 907.0,245.1 908.0,244.6 909.1,246.2 910.1,246.3 911.2,245.5 912.2,246.5 913.3,247.4 914.3,246.4 915.4,246.3 916.4,248.0 917.5,248.9 918.5,248.3 919.6,248.5 920.6,248.8 921.6,247.8 922.7,249.6 923.7,248.2 924.8,250.2 925.8,250.0 926.9,249.2 927.9,249.1 929.0,249.4 930.0,250.0 931.1,250.3 932.1,250.5 933.2,250.4 934.2,251.2 935.3,251.0 936.3,251.0 937.4,251.6 938.4,251.3 939.5,251.7 940.5,250.9 941.6,252.3 942.6,253.0 943.7,253.2 944.7,253.2 945.8,252.7 946.8,253.8 947.9,253.5 948.9,252.7 950.0,256.0 951.0,255.2 952.1,254.5 953.1,254.6 954.2,254.9 955.2,255.6 956.3,255.0 957.3,255.5 958.4,256.2 959.4,254.4 960.5,256.0 961.5,256.8 962.6,256.7 963.6,257.0 964.6,257.1 965.7,259.1 966.7,257.8 967.8,256.9 968.8,258.6 969.9,258.0 970.9,257.5 972.0,257.8 973.0,257.5 974.1,259.9 975.1,259.1 976.2,259.3 977.2,258.8 978.3,258.7 979.3,261.5 980.4,259.0 981.4,260.9 982.5,259.6 983.5,261.3 984.6,260.2 985.6,259.6 986.7,260.7 987.7,260.6 988.8,260.2 989.8,260.8 990.9,261.1 991.9,260.1 993.0,260.5 994.0,261.5 995.1,259.5 996.1,262.3 997.2,261.0 998.2,261.9 999.3,261.7 1000.3,261.4 1001.4,261.9 1002.4,261.7 1003.5,263.3 1004.5,263.3 1005.6,261.9 1006.6,263.1 1007.7,263.3 1008.7,263.7 1009.7,261.8 1010.8,262.3 1011.8,261.9 1012.9,263.6 1013.9,263.0 1015.0,263.9 1016.0,262.6 1017.1,262.1 1018.1,263.9 1019.2,262.2 1020.2,262.7 1021.3,263.6 1022.3,264.9 1023.4,262.6 1024.4,263.7 1025.5,264.2 1026.5,263.5 1027.6,263.6 1028.6,262.9 1029.7,264.8 1030.7,263.3 1031.8,263.2 1032.8,263.3 1033.9,264.5 1034.9,265.0 1036.0,263.9 1037.0,264.6 1038.1,264.7 1039.1,263.9 1040.2,265.1 1041.2,266.7 1042.3,265.4 1043.3,266.6 1044.4,264.8 1045.4,265.3 1046.5,266.0 1047.5,265.7 1048.6,265.2 1049.6,265.9 1050.7,265.1 1051.7,266.2 1052.7,265.6 1053.8,265.4 1054.8,265.4 1055.9,267.1 1056.9,266.1 1058.0,268.1 1059.0,267.6 1060.1,268.3 1061.1,266.2 1062.2,267.9 1063.2,267.2 1064.3,267.4 1065.3,267.3 1066.4,267.8 1067.4,267.3 1068.5,266.3 1069.5,267.6 1070.6,267.3 1071.6,267.1 1072.7,268.0 1073.7,268.8 1074.8,268.4 1075.8,267.3 1076.9,269.3 1077.9,268.7 1079.0,267.6 1080.0,267.8 1081.1,268.4 1082.1,267.9 1083.2,268.5 1084.2,269.5 1085.3,269.8 1086.3,269.2 1087.4,268.2 1088.4,269.3 1089.5,269.6 1090.5,269.5 1091.6,270.1 1092.6,269.2 1093.7,269.9 1094.7,268.9 1095.7,270.9 1096.8,269.0 1097.8,269.7 1098.9,270.7 1099.9,268.8 1101.0,269.5 1102.0,270.9 1103.1,270.0 1104.1,269.1 1105.2,269.7 1106.2,268.8 1107.3,268.8 1108.3,268.9 1109.4,269.1 1110.4,268.4 1111.5,268.9 1112.5,269.0 1113.6,270.8 1114.6,268.7 1115.7,268.4 1116.7,269.5 1117.8,269.6 1118.8,267.9 1119.9,270.5 1120.9,268.9 1122.0,267.6 1123.0,269.9 1124.1,268.8 1125.1,267.9 1126.2,269.3 1127.2,268.8 1128.3,268.6 1129.3,269.8 1130.4,269.3 1131.4,269.0 1132.5,268.6 1133.5,269.2 1134.6,269.3 1135.6,269.9 1136.7,269.4 1137.7,268.6 1138.8,269.1 1139.8,269.8 1140.8,269.8 1141.9,267.4 1142.9,268.5 1144.0,268.8 1145.0,271.1 1146.1,268.9 1147.1,269.0 1148.2,268.2 1149.2,269.1 1150.3,269.5 1151.3,269.1 1152.4,270.8 1153.4,268.8 1154.5,269.3 1155.5,270.1 1156.6,268.7 1157.6,268.4 1158.7,270.7 1159.7,270.2 1160.8,269.6 1161.8,269.7 1162.9,270.2 1163.9,270.6 1165.0,268.5 1166.0,269.3 1167.1,270.9 1168.1,271.1 1169.2,269.0 1170.2,269.6 1171.3,269.0 1172.3,269.8 1173.4,271.0 1174.4,270.3 1175.5,272.0 1176.5,271.1 1177.6,270.7 1178.6,270.3 1179.7,271.2 1180.7,270.9 1181.8,270.5 1182.8,270.6 1183.8,270.5 1184.9,270.9 1185.9,271.3 1187.0,270.5 1188.0,271.1 1189.1,271.8 1190.1,271.7 1191.2,271.3 1192.2,271.4 1193.3,271.3 1194.3,271.4 1195.4,271.3 1196.4,271.6 1197.5,272.4 1198.5,271.2 1199.6,270.8 1200.6,271.3 1201.7,271.8 1202.7,271.3 1203.8,272.3 1204.8,273.0 1205.9,271.7 1206.9,272.4 1208.0,271.2 1209.0,272.5 1210.1,273.6 1211.1,272.5 1212.2,270.7 1213.2,272.1 1214.3,272.8 1215.3,272.4 1216.4,271.5 1217.4,271.5 1218.5,271.7 1219.5,270.8 1220.6,271.3 1221.6,271.8 1222.7,271.4 1223.7,270.7 1224.8,271.1 1225.8,271.1 1226.8,272.5 1227.9,271.9 1228.9,271.3 1230.0,272.0 1231.0,271.0 1232.1,271.3 1233.1,271.1 1234.2,271.9 1235.2,270.0 1236.3,270.9 1237.3,271.9 1238.4,271.7 1239.4,269.9 1240.5,271.9 1241.5,271.1 1242.6,271.0 1243.6,271.7 1244.7,272.5" fill="none" stroke="#66f" stroke-width="1" stroke-linejoin="round" marker-start="url(#tr2)" marker-mid="url(#tr2)" marker-end="url(#tr2)"/></g><rect x="1050.5" y="16" width="174.5" height="76" fill="#fff" stroke="#555" stroke-width="1.5"/><path d="M1061,33.2 H1097" stroke="#000" stroke-width="1.2"/><polyline points="1079,33.2 1079,33.2" fill="none" stroke="none" marker-start="url(#sq2)"/><text x="1104" y="39.6" style="font-family:'Liberation Serif',serif;font-weight:bold;font-size:19.3px">Instantaneous</text><path d="M1061,57.2 H1097" stroke="#f66" stroke-width="1.2"/><polyline points="1079,57.2 1079,57.2" fill="none" stroke="none" marker-start="url(#ci2)"/><text x="1104" y="63.6" style="font-family:'Liberation Serif',serif;font-weight:bold;font-size:19.3px">Progressive</text><path d="M1061,81.4 H1097" stroke="#99f" stroke-width="1.2"/><polyline points="1079,81.4 1079,81.4" fill="none" stroke="none" marker-start="url(#tr2)"/><text x="1104" y="87.8" style="font-family:'Liberation Serif',serif;font-weight:bold;font-size:19.3px">E=-0.25V</text><marker id="sq3" markerUnits="userSpaceOnUse" markerWidth="10.5" markerHeight="10.5" refX="5.25" refY="5.25" overflow="visible"><rect x="1" y="1" width="8.5" height="8.5" fill="#000"/></marker><marker id="ci3" markerUnits="userSpaceOnUse" markerWidth="12" markerHeight="12" refX="6.0" refY="6.0" overflow="visible"><circle cx="6.0" cy="6.0" r="5.0" fill="#f00"/></marker><marker id="tr3" markerUnits="userSpaceOnUse" markerWidth="13.5" markerHeight="12.5" refX="6.75" refY="7.3" overflow="visible"><path d="M6.75,1 L12.5,11.5 L1,11.5Z" fill="#00f"/></marker><path d="M104.3,506.5 V885.5 H618.9" fill="none" stroke="#444" stroke-width="2"/><path d="M104.3,885.5h-7 M104.3,854.0h-4 M104.3,822.5h-7 M104.3,791.0h-4 M104.3,759.5h-7 M104.3,728.0h-4 M104.3,696.5h-7 M104.3,665.0h-4 M104.3,633.5h-7 M104.3,602.0h-4 M104.3,570.5h-7 M104.3,539.0h-4 M104.3,507.5h-7 M104.3,885.5v7 M130.0,885.5v4 M155.7,885.5v7 M181.3,885.5v4 M207.0,885.5v7 M232.7,885.5v4 M258.4,885.5v7 M284.1,885.5v4 M309.7,885.5v7 M335.4,885.5v4 M361.1,885.5v7 M386.8,885.5v4 M412.5,885.5v7 M438.1,885.5v4 M463.8,885.5v7 M489.5,885.5v4 M515.2,885.5v7 M540.9,885.5v4 M566.5,885.5v7 M592.2,885.5v4 M617.9,885.5v7" stroke="#444" stroke-width="2" fill="none"/><text x="91.8" y="893.1" text-anchor="end" style="font-family:'Liberation Serif',serif;font-weight:bold;font-size:23px">0.0</text><text x="91.8" y="830.1" text-anchor="end" style="font-family:'Liberation Serif',serif;font-weight:bold;font-size:23px">0.2</text><text x="91.8" y="767.1" text-anchor="end" style="font-family:'Liberation Serif',serif;font-weight:bold;font-size:23px">0.4</text><text x="91.8" y="704.1" text-anchor="end" style="font-family:'Liberation Serif',serif;font-weight:bold;font-size:23px">0.6</text><text x="91.8" y="641.1" text-anchor="end" style="font-family:'Liberation Serif',serif;font-weight:bold;font-size:23px">0.8</text><text x="91.8" y="578.1" text-anchor="end" style="font-family:'Liberation Serif',serif;font-weight:bold;font-size:23px">1.0</text><text x="91.8" y="515.1" text-anchor="end" style="font-family:'Liberation Serif',serif;font-weight:bold;font-size:23px">1.2</text><text x="104.3" y="917.0" text-anchor="middle" style="font-family:'Liberation Serif',serif;font-weight:bold;font-size:23px">0</text><text x="155.7" y="917.0" text-anchor="middle" style="font-family:'Liberation Serif',serif;font-weight:bold;font-size:23px">2</text><text x="207.0" y="917.0" text-anchor="middle" style="font-family:'Liberation Serif',serif;font-weight:bold;font-size:23px">4</text><text x="258.4" y="917.0" text-anchor="middle" style="font-family:'Liberation Serif',serif;font-weight:bold;font-size:23px">6</text><text x="309.7" y="917.0" text-anchor="middle" style="font-family:'Liberation Serif',serif;font-weight:bold;font-size:23px">8</text><text x="361.1" y="917.0" text-anchor="middle" style="font-family:'Liberation Serif',serif;font-weight:bold;font-size:23px">10</text><text x="412.5" y="917.0" text-anchor="middle" style="font-family:'Liberation Serif',serif;font-weight:bold;font-size:23px">12</text><text x="463.8" y="917.0" text-anchor="middle" style="font-family:'Liberation Serif',serif;font-weight:bold;font-size:23px">14</text><text x="515.2" y="917.0" text-anchor="middle" style="font-family:'Liberation Serif',serif;font-weight:bold;font-size:23px">16</text><text x="566.5" y="917.0" text-anchor="middle" style="font-family:'Liberation Serif',serif;font-weight:bold;font-size:23px">18</text><text x="617.9" y="917.0" text-anchor="middle" style="font-family:'Liberation Serif',serif;font-weight:bold;font-size:23px">20</text><text x="323" y="944" style="font-family:'Liberation Serif',serif;font-weight:bold;font-size:29px">(<tspan style="font-style:italic">t/t</tspan><tspan dy="11.5" style="font-size:17px">max</tspan><tspan dy="-11.5" dx="-0.5">)</tspan></text><text transform="translate(33,718.5) rotate(-90)" style="font-family:'Liberation Serif',serif;font-weight:bold;font-size:29px;letter-spacing:0.7px">(<tspan style="font-style:italic">j/j</tspan><tspan dy="11.5" style="font-size:17px">max</tspan><tspan dy="-11.5" dx="-0.5">)</tspan><tspan dy="-18.5" style="font-size:17px">2</tspan></text><clipPath id="cp3"><rect x="103.3" y="507.5" width="514.6" height="378.0"/></clipPath><g clip-path="url(#cp3)"><polyline points="104.3,885.5 105.1,857.4 105.8,831.4 106.6,807.3 107.4,785.0 108.2,764.4 108.9,745.4 109.7,727.9 110.5,711.7 111.2,696.8 112.0,683.2 112.8,670.6 113.5,659.1 114.3,648.7 115.1,639.1 115.9,630.4 116.6,622.5 117.4,615.3 118.2,608.9 118.9,603.1 119.7,597.9 120.5,593.3 121.2,589.2 122.0,585.6 122.8,582.5 123.6,579.8 124.3,577.5 125.1,575.6 125.9,574.0 126.6,572.8 127.4,571.8 128.2,571.1 129.0,570.7 129.7,570.5 130.5,570.6 131.3,570.8 132.0,571.2 132.8,571.8 133.6,572.6 134.3,573.5 135.1,574.5 135.9,575.7 136.7,577.0 137.4,578.4 138.2,579.9 139.0,581.4 139.7,583.1 140.5,584.8 141.3,586.6 142.0,588.4 142.8,590.3 143.6,592.3 144.4,594.2 145.1,596.3 145.9,598.3 146.7,600.4 147.4,602.5 148.2,604.6 149.0,606.8 149.8,608.9 150.5,611.1 151.3,613.2 152.1,615.4 152.8,617.6 153.6,619.8 154.4,622.0 155.1,624.1 155.9,626.3 156.7,628.5 157.5,630.6 158.2,632.8 159.0,634.9 159.8,637.0 160.5,639.2 161.3,641.3 162.1,643.3 162.9,645.4 163.6,647.5 164.4,649.5 165.2,651.5 165.9,653.5 166.7,655.5 167.5,657.5 168.2,659.5 169.0,661.4 169.8,663.3 170.6,665.2 171.3,667.1 172.1,668.9 172.9,670.8 173.6,672.6 174.4,674.4 175.2,676.2 175.9,677.9 176.7,679.7 177.5,681.4 178.3,683.1 179.0,684.8 179.8,686.4 180.6,688.0 181.3,689.7 182.1,691.3 182.9,692.8 183.7,694.4 184.4,696.0 185.2,697.5 186.0,699.0 186.7,700.5 187.5,701.9 188.3,703.4 189.0,704.8 189.8,706.2 190.6,707.6 191.4,709.0 192.1,710.4 192.9,711.7 193.7,713.0 194.4,714.4 195.2,715.7 196.0,716.9 196.7,718.2 197.5,719.4 198.3,720.7 199.1,721.9 199.8,723.1 200.6,724.3 201.4,725.5 202.1,726.6 202.9,727.8 203.7,728.9 204.5,730.0 205.2,731.1 206.0,732.2 206.8,733.3 207.5,734.3 208.3,735.4 209.1,736.4 209.8,737.4 210.6,738.4 211.4,739.4 212.2,740.4 212.9,741.4 213.7,742.4 214.5,743.3 215.2,744.3 216.0,745.2 216.8,746.1 217.5,747.0 218.3,747.9 219.1,748.8 219.9,749.7 220.6,750.5 221.4,751.4 222.2,752.2 222.9,753.1 223.7,753.9 224.5,754.7 225.3,755.5 226.0,756.3 226.8,757.1 227.6,757.9 228.3,758.6 229.1,759.4 229.9,760.2 230.6,760.9 231.4,761.6 232.2,762.4 233.0,763.1 233.7,763.8 234.5,764.5 235.3,765.2 236.0,765.9 236.8,766.6 237.6,767.2 238.3,767.9 239.1,768.6 239.9,769.2 240.7,769.9 241.4,770.5 242.2,771.1 243.0,771.8 243.7,772.4 244.5,773.0 245.3,773.6 246.1,774.2 246.8,774.8 247.6,775.4 248.4,776.0 249.1,776.5 249.9,777.1 250.7,777.7 251.4,778.2 252.2,778.8 253.0,779.3 253.8,779.9 254.5,780.4 255.3,780.9 256.1,781.5 256.8,782.0 257.6,782.5 258.4,783.0 259.2,783.5 259.9,784.0 260.7,784.5 261.5,785.0 262.2,785.5 263.0,786.0 263.8,786.5 264.5,786.9 265.3,787.4 266.1,787.9 266.9,788.3 267.6,788.8 268.4,789.2 269.2,789.7 269.9,790.1 270.7,790.6 271.5,791.0 272.2,791.4 273.0,791.9 273.8,792.3 274.6,792.7 275.3,793.1 276.1,793.5 276.9,793.9 277.6,794.3 278.4,794.7 279.2,795.1 280.0,795.5 280.7,795.9 281.5,796.3 282.3,796.7 283.0,797.1 283.8,797.5 284.6,797.8 285.3,798.2 286.1,798.6 286.9,798.9 287.7,799.3 288.4,799.7 289.2,800.0 290.0,800.4 290.7,800.7 291.5,801.1 292.3,801.4 293.0,801.8 293.8,802.1 294.6,802.4 295.4,802.8 296.1,803.1 296.9,803.4 297.7,803.8 298.4,804.1 299.2,804.4 300.0,804.7 300.8,805.0 301.5,805.4 302.3,805.7 303.1,806.0 303.8,806.3 304.6,806.6 305.4,806.9 306.1,807.2 306.9,807.5 307.7,807.8 308.5,808.1 309.2,808.4 310.0,808.7 310.8,808.9 311.5,809.2 312.3,809.5 313.1,809.8 313.8,810.1 314.6,810.3 315.4,810.6 316.2,810.9 316.9,811.2 317.7,811.4 318.5,811.7 319.2,812.0 320.0,812.2 320.8,812.5 321.6,812.7 322.3,813.0 323.1,813.3 323.9,813.5 324.6,813.8 325.4,814.0 326.2,814.3 326.9,814.5 327.7,814.7 328.5,815.0 329.3,815.2 330.0,815.5 330.8,815.7 331.6,815.9 332.3,816.2 333.1,816.4 333.9,816.6 334.6,816.9 335.4,817.1 336.2,817.3 337.0,817.6 337.7,817.8 338.5,818.0 339.3,818.2 340.0,818.4 340.8,818.7 341.6,818.9 342.4,819.1 343.1,819.3 343.9,819.5 344.7,819.7 345.4,819.9 346.2,820.2 347.0,820.4 347.7,820.6 348.5,820.8 349.3,821.0 350.1,821.2 350.8,821.4 351.6,821.6 352.4,821.8 353.1,822.0 353.9,822.2 354.7,822.4 355.5,822.6 356.2,822.8 357.0,822.9 357.8,823.1 358.5,823.3 359.3,823.5 360.1,823.7 360.8,823.9 361.6,824.1 362.4,824.2 363.2,824.4 363.9,824.6 364.7,824.8 365.5,825.0 366.2,825.2 367.0,825.3 367.8,825.5 368.5,825.7 369.3,825.9 370.1,826.0 370.9,826.2 371.6,826.4 372.4,826.5 373.2,826.7 373.9,826.9 374.7,827.0 375.5,827.2 376.3,827.4 377.0,827.5 377.8,827.7 378.6,827.9 379.3,828.0 380.1,828.2 380.9,828.3 381.6,828.5 382.4,828.7 383.2,828.8 384.0,829.0 384.7,829.1 385.5,829.3 386.3,829.4 387.0,829.6 387.8,829.7 388.6,829.9 389.3,830.0 390.1,830.2 390.9,830.3 391.7,830.5 392.4,830.6 393.2,830.8 394.0,830.9 394.7,831.1 395.5,831.2 396.3,831.4 397.1,831.5 397.8,831.6 398.6,831.8 399.4,831.9 400.1,832.1 400.9,832.2 401.7,832.3 402.4,832.5 403.2,832.6 404.0,832.8 404.8,832.9 405.5,833.0 406.3,833.2 407.1,833.3 407.8,833.4 408.6,833.6 409.4,833.7 410.1,833.8 410.9,833.9 411.7,834.1 412.5,834.2 413.2,834.3 414.0,834.5 414.8,834.6 415.5,834.7 416.3,834.8 417.1,835.0 417.9,835.1 418.6,835.2 419.4,835.3 420.2,835.5 420.9,835.6 421.7,835.7 422.5,835.8 423.2,835.9 424.0,836.1 424.8,836.2 425.6,836.3 426.3,836.4 427.1,836.5 427.9,836.6 428.6,836.8 429.4,836.9 430.2,837.0 430.9,837.1 431.7,837.2 432.5,837.3 433.3,837.4 434.0,837.6 434.8,837.7 435.6,837.8 436.3,837.9 437.1,838.0 437.9,838.1 438.7,838.2 439.4,838.3 440.2,838.4 441.0,838.5 441.7,838.7 442.5,838.8 443.3,838.9 444.0,839.0 444.8,839.1 445.6,839.2 446.4,839.3 447.1,839.4 447.9,839.5 448.7,839.6 449.4,839.7 450.2,839.8 451.0,839.9 451.8,840.0 452.5,840.1 453.3,840.2 454.1,840.3 454.8,840.4 455.6,840.5 456.4,840.6 457.1,840.7 457.9,840.8 458.7,840.9 459.5,841.0 460.2,841.1 461.0,841.2 461.8,841.3 462.5,841.4 463.3,841.5 464.1,841.6 464.8,841.7 465.6,841.7 466.4,841.8 467.2,841.9 467.9,842.0 468.7,842.1 469.5,842.2 470.2,842.3 471.0,842.4 471.8,842.5 472.6,842.6 473.3,842.7 474.1,842.8 474.9,842.8 475.6,842.9 476.4,843.0 477.2,843.1 477.9,843.2 478.7,843.3 479.5,843.4 480.3,843.5 481.0,843.5 481.8,843.6 482.6,843.7 483.3,843.8 484.1,843.9 484.9,844.0 485.6,844.0 486.4,844.1 487.2,844.2 488.0,844.3 488.7,844.4 489.5,844.5 490.3,844.5 491.0,844.6 491.8,844.7 492.6,844.8 493.4,844.9 494.1,844.9 494.9,845.0 495.7,845.1 496.4,845.2 497.2,845.3 498.0,845.3 498.7,845.4 499.5,845.5 500.3,845.6 501.1,845.7 501.8,845.7 502.6,845.8 503.4,845.9 504.1,846.0 504.9,846.0 505.7,846.1 506.4,846.2 507.2,846.3 508.0,846.3 508.8,846.4 509.5,846.5 510.3,846.6 511.1,846.6 511.8,846.7 512.6,846.8 513.4,846.9 514.2,846.9 514.9,847.0 515.7,847.1 516.5,847.1 517.2,847.2 518.0,847.3 518.8,847.4 519.5,847.4 520.3,847.5 521.1,847.6 521.9,847.6 522.6,847.7 523.4,847.8 524.2,847.9 524.9,847.9 525.7,848.0 526.5,848.1 527.2,848.1 528.0,848.2 528.8,848.3 529.6,848.3 530.3,848.4 531.1,848.5 531.9,848.5 532.6,848.6 533.4,848.7 534.2,848.7 535.0,848.8 535.7,848.9 536.5,848.9 537.3,849.0 538.0,849.1 538.8,849.1 539.6,849.2 540.3,849.2 541.1,849.3 541.9,849.4 542.7,849.4 543.4,849.5 544.2,849.6 545.0,849.6 545.7,849.7 546.5,849.8 547.3,849.8 548.1,849.9 548.8,849.9 549.6,850.0 550.4,850.1 551.1,850.1 551.9,850.2 552.7,850.2 553.4,850.3 554.2,850.4 555.0,850.4 555.8,850.5 556.5,850.5 557.3,850.6 558.1,850.7 558.8,850.7 559.6,850.8 560.4,850.8 561.1,850.9 561.9,851.0 562.7,851.0 563.5,851.1 564.2,851.1 565.0,851.2 565.8,851.2 566.5,851.3 567.3,851.4 568.1,851.4 568.9,851.5 569.6,851.5 570.4,851.6 571.2,851.6 571.9,851.7 572.7,851.8 573.5,851.8 574.2,851.9 575.0,851.9 575.8,852.0 576.6,852.0 577.3,852.1 578.1,852.1 578.9,852.2 579.6,852.2 580.4,852.3 581.2,852.4 581.9,852.4 582.7,852.5 583.5,852.5 584.3,852.6 585.0,852.6 585.8,852.7 586.6,852.7 587.3,852.8 588.1,852.8 588.9,852.9 589.7,852.9 590.4,853.0 591.2,853.0 592.0,853.1 592.7,853.1 593.5,853.2 594.3,853.2 595.0,853.3 595.8,853.3 596.6,853.4 597.4,853.4 598.1,853.5 598.9,853.5 599.7,853.6 600.4,853.6 601.2,853.7 602.0,853.7 602.7,853.8 603.5,853.8 604.3,853.9 605.1,853.9 605.8,854.0 606.6,854.0 607.4,854.1 608.1,854.1 608.9,854.2 609.7,854.2 610.5,854.3 611.2,854.3 612.0,854.4 612.8,854.4 613.5,854.5 614.3,854.5 615.1,854.6 615.8,854.6 616.6,854.6 617.4,854.7" fill="none" stroke="#000" stroke-width="1" stroke-linejoin="round" marker-start="url(#sq3)" marker-mid="url(#sq3)" marker-end="url(#sq3)"/><polyline points="104.3,885.5 105.1,885.4 105.8,885.0 106.6,884.0 107.4,882.0 108.2,878.7 108.9,874.1 109.7,867.9 110.5,860.0 111.2,850.4 112.0,839.2 112.8,826.5 113.5,812.3 114.3,796.9 115.1,780.6 115.9,763.6 116.6,746.1 117.4,728.5 118.2,711.0 118.9,693.9 119.7,677.4 120.5,661.7 121.2,647.0 122.0,633.4 122.8,621.1 123.6,610.2 124.3,600.7 125.1,592.5 125.9,585.7 126.6,580.3 127.4,576.1 128.2,573.2 129.0,571.3 129.7,570.6 130.5,570.7 131.3,571.7 132.0,573.4 132.8,575.7 133.6,578.6 134.3,582.0 135.1,585.7 135.9,589.7 136.7,594.0 137.4,598.4 138.2,603.0 139.0,607.6 139.7,612.3 140.5,617.0 141.3,621.6 142.0,626.3 142.8,630.8 143.6,635.3 144.4,639.7 145.1,644.1 145.9,648.3 146.7,652.4 147.4,656.4 148.2,660.3 149.0,664.0 149.8,667.7 150.5,671.3 151.3,674.7 152.1,678.1 152.8,681.4 153.6,684.5 154.4,687.6 155.1,690.6 155.9,693.5 156.7,696.3 157.5,699.0 158.2,701.7 159.0,704.3 159.8,706.8 160.5,709.2 161.3,711.6 162.1,713.9 162.9,716.2 163.6,718.4 164.4,720.5 165.2,722.6 165.9,724.7 166.7,726.7 167.5,728.6 168.2,730.5 169.0,732.3 169.8,734.1 170.6,735.9 171.3,737.6 172.1,739.3 172.9,740.9 173.6,742.5 174.4,744.1 175.2,745.6 175.9,747.1 176.7,748.6 177.5,750.1 178.3,751.5 179.0,752.9 179.8,754.2 180.6,755.5 181.3,756.8 182.1,758.1 182.9,759.4 183.7,760.6 184.4,761.8 185.2,763.0 186.0,764.1 186.7,765.3 187.5,766.4 188.3,767.5 189.0,768.5 189.8,769.6 190.6,770.6 191.4,771.6 192.1,772.6 192.9,773.6 193.7,774.6 194.4,775.5 195.2,776.5 196.0,777.4 196.7,778.3 197.5,779.2 198.3,780.0 199.1,780.9 199.8,781.7 200.6,782.6 201.4,783.4 202.1,784.2 202.9,785.0 203.7,785.8 204.5,786.5 205.2,787.3 206.0,788.0 206.8,788.8 207.5,789.5 208.3,790.2 209.1,790.9 209.8,791.6 210.6,792.3 211.4,792.9 212.2,793.6 212.9,794.2 213.7,794.9 214.5,795.5 215.2,796.1 216.0,796.8 216.8,797.4 217.5,798.0 218.3,798.6 219.1,799.1 219.9,799.7 220.6,800.3 221.4,800.9 222.2,801.4 222.9,802.0 223.7,802.5 224.5,803.0 225.3,803.5 226.0,804.1 226.8,804.6 227.6,805.1 228.3,805.6 229.1,806.1 229.9,806.6 230.6,807.0 231.4,807.5 232.2,808.0 233.0,808.5 233.7,808.9 234.5,809.4 235.3,809.8 236.0,810.3 236.8,810.7 237.6,811.1 238.3,811.6 239.1,812.0 239.9,812.4 240.7,812.8 241.4,813.2 242.2,813.6 243.0,814.0 243.7,814.4 244.5,814.8 245.3,815.2 246.1,815.6 246.8,816.0 247.6,816.3 248.4,816.7 249.1,817.1 249.9,817.4 250.7,817.8 251.4,818.1 252.2,818.5 253.0,818.8 253.8,819.2 254.5,819.5 255.3,819.9 256.1,820.2 256.8,820.5 257.6,820.8 258.4,821.2 259.2,821.5 259.9,821.8 260.7,822.1 261.5,822.4 262.2,822.7 263.0,823.0 263.8,823.3 264.5,823.6 265.3,823.9 266.1,824.2 266.9,824.5 267.6,824.8 268.4,825.1 269.2,825.4 269.9,825.7 270.7,825.9 271.5,826.2 272.2,826.5 273.0,826.7 273.8,827.0 274.6,827.3 275.3,827.5 276.1,827.8 276.9,828.1 277.6,828.3 278.4,828.6 279.2,828.8 280.0,829.1 280.7,829.3 281.5,829.6 282.3,829.8 283.0,830.0 283.8,830.3 284.6,830.5 285.3,830.7 286.1,831.0 286.9,831.2 287.7,831.4 288.4,831.7 289.2,831.9 290.0,832.1 290.7,832.3 291.5,832.6 292.3,832.8 293.0,833.0 293.8,833.2 294.6,833.4 295.4,833.6 296.1,833.8 296.9,834.0 297.7,834.2 298.4,834.4 299.2,834.6 300.0,834.8 300.8,835.0 301.5,835.2 302.3,835.4 303.1,835.6 303.8,835.8 304.6,836.0 305.4,836.2 306.1,836.4 306.9,836.6 307.7,836.8 308.5,836.9 309.2,837.1 310.0,837.3 310.8,837.5 311.5,837.7 312.3,837.8 313.1,838.0 313.8,838.2 314.6,838.4 315.4,838.5 316.2,838.7 316.9,838.9 317.7,839.0 318.5,839.2 319.2,839.4 320.0,839.5 320.8,839.7 321.6,839.9 322.3,840.0 323.1,840.2 323.9,840.4 324.6,840.5 325.4,840.7 326.2,840.8 326.9,841.0 327.7,841.1 328.5,841.3 329.3,841.4 330.0,841.6 330.8,841.7 331.6,841.9 332.3,842.0 333.1,842.2 333.9,842.3 334.6,842.5 335.4,842.6 336.2,842.8 337.0,842.9 337.7,843.0 338.5,843.2 339.3,843.3 340.0,843.5 340.8,843.6 341.6,843.7 342.4,843.9 343.1,844.0 343.9,844.1 344.7,844.3 345.4,844.4 346.2,844.5 347.0,844.7 347.7,844.8 348.5,844.9 349.3,845.0 350.1,845.2 350.8,845.3 351.6,845.4 352.4,845.5 353.1,845.7 353.9,845.8 354.7,845.9 355.5,846.0 356.2,846.2 357.0,846.3 357.8,846.4 358.5,846.5 359.3,846.6 360.1,846.7 360.8,846.9 361.6,847.0 362.4,847.1 363.2,847.2 363.9,847.3 364.7,847.4 365.5,847.5 366.2,847.7 367.0,847.8 367.8,847.9 368.5,848.0 369.3,848.1 370.1,848.2 370.9,848.3 371.6,848.4 372.4,848.5 373.2,848.6 373.9,848.7 374.7,848.8 375.5,848.9 376.3,849.1 377.0,849.2 377.8,849.3 378.6,849.4 379.3,849.5 380.1,849.6 380.9,849.7 381.6,849.8 382.4,849.9 383.2,850.0 384.0,850.1 384.7,850.2 385.5,850.2 386.3,850.3 387.0,850.4 387.8,850.5 388.6,850.6 389.3,850.7 390.1,850.8 390.9,850.9 391.7,851.0 392.4,851.1 393.2,851.2 394.0,851.3 394.7,851.4 395.5,851.5 396.3,851.6 397.1,851.6 397.8,851.7 398.6,851.8 399.4,851.9 400.1,852.0 400.9,852.1 401.7,852.2 402.4,852.3 403.2,852.3 404.0,852.4 404.8,852.5 405.5,852.6 406.3,852.7 407.1,852.8 407.8,852.8 408.6,852.9 409.4,853.0 410.1,853.1 410.9,853.2 411.7,853.3 412.5,853.3 413.2,853.4 414.0,853.5 414.8,853.6 415.5,853.7 416.3,853.7 417.1,853.8 417.9,853.9 418.6,854.0 419.4,854.0 420.2,854.1 420.9,854.2 421.7,854.3 422.5,854.3 423.2,854.4 424.0,854.5 424.8,854.6 425.6,854.6 426.3,854.7 427.1,854.8 427.9,854.9 428.6,854.9 429.4,855.0 430.2,855.1 430.9,855.2 431.7,855.2 432.5,855.3 433.3,855.4 434.0,855.4 434.8,855.5 435.6,855.6 436.3,855.6 437.1,855.7 437.9,855.8 438.7,855.9 439.4,855.9 440.2,856.0 441.0,856.1 441.7,856.1 442.5,856.2 443.3,856.3 444.0,856.3 444.8,856.4 445.6,856.5 446.4,856.5 447.1,856.6 447.9,856.7 448.7,856.7 449.4,856.8 450.2,856.8 451.0,856.9 451.8,857.0 452.5,857.0 453.3,857.1 454.1,857.2 454.8,857.2 455.6,857.3 456.4,857.3 457.1,857.4 457.9,857.5 458.7,857.5 459.5,857.6 460.2,857.6 461.0,857.7 461.8,857.8 462.5,857.8 463.3,857.9 464.1,857.9 464.8,858.0 465.6,858.1 466.4,858.1 467.2,858.2 467.9,858.2 468.7,858.3 469.5,858.4 470.2,858.4 471.0,858.5 471.8,858.5 472.6,858.6 473.3,858.6 474.1,858.7 474.9,858.8 475.6,858.8 476.4,858.9 477.2,858.9 477.9,859.0 478.7,859.0 479.5,859.1 480.3,859.1 481.0,859.2 481.8,859.2 482.6,859.3 483.3,859.3 484.1,859.4 484.9,859.5 485.6,859.5 486.4,859.6 487.2,859.6 488.0,859.7 488.7,859.7 489.5,859.8 490.3,859.8 491.0,859.9 491.8,859.9 492.6,860.0 493.4,860.0 494.1,860.1 494.9,860.1 495.7,860.2 496.4,860.2 497.2,860.3 498.0,860.3 498.7,860.4 499.5,860.4 500.3,860.5 501.1,860.5 501.8,860.6 502.6,860.6 503.4,860.7 504.1,860.7 504.9,860.8 505.7,860.8 506.4,860.9 507.2,860.9 508.0,860.9 508.8,861.0 509.5,861.0 510.3,861.1 511.1,861.1 511.8,861.2 512.6,861.2 513.4,861.3 514.2,861.3 514.9,861.4 515.7,861.4 516.5,861.5 517.2,861.5 518.0,861.5 518.8,861.6 519.5,861.6 520.3,861.7 521.1,861.7 521.9,861.8 522.6,861.8 523.4,861.8 524.2,861.9 524.9,861.9 525.7,862.0 526.5,862.0 527.2,862.1 528.0,862.1 528.8,862.1 529.6,862.2 530.3,862.2 531.1,862.3 531.9,862.3 532.6,862.4 533.4,862.4 534.2,862.4 535.0,862.5 535.7,862.5 536.5,862.6 537.3,862.6 538.0,862.6 538.8,862.7 539.6,862.7 540.3,862.8 541.1,862.8 541.9,862.8 542.7,862.9 543.4,862.9 544.2,863.0 545.0,863.0 545.7,863.0 546.5,863.1 547.3,863.1 548.1,863.2 548.8,863.2 549.6,863.2 550.4,863.3 551.1,863.3 551.9,863.4 552.7,863.4 553.4,863.4 554.2,863.5 555.0,863.5 555.8,863.5 556.5,863.6 557.3,863.6 558.1,863.7 558.8,863.7 559.6,863.7 560.4,863.8 561.1,863.8 561.9,863.8 562.7,863.9 563.5,863.9 564.2,863.9 565.0,864.0 565.8,864.0 566.5,864.1 567.3,864.1 568.1,864.1 568.9,864.2 569.6,864.2 570.4,864.2 571.2,864.3 571.9,864.3 572.7,864.3 573.5,864.4 574.2,864.4 575.0,864.4 575.8,864.5 576.6,864.5 577.3,864.5 578.1,864.6 578.9,864.6 579.6,864.6 580.4,864.7 581.2,864.7 581.9,864.7 582.7,864.8 583.5,864.8 584.3,864.8 585.0,864.9 585.8,864.9 586.6,864.9 587.3,865.0 588.1,865.0 588.9,865.0 589.7,865.1 590.4,865.1 591.2,865.1 592.0,865.2 592.7,865.2 593.5,865.2 594.3,865.3 595.0,865.3 595.8,865.3 596.6,865.4 597.4,865.4 598.1,865.4 598.9,865.5 599.7,865.5 600.4,865.5 601.2,865.6 602.0,865.6 602.7,865.6 603.5,865.6 604.3,865.7 605.1,865.7 605.8,865.7 606.6,865.8 607.4,865.8 608.1,865.8 608.9,865.9 609.7,865.9 610.5,865.9 611.2,865.9 612.0,866.0 612.8,866.0 613.5,866.0 614.3,866.1 615.1,866.1 615.8,866.1 616.6,866.2 617.4,866.2" fill="none" stroke="#f22" stroke-width="1" stroke-linejoin="round" marker-start="url(#ci3)" marker-mid="url(#ci3)" marker-end="url(#ci3)"/><polyline points="142.8,672.1 143.6,675.2 144.4,678.6 145.1,680.1 145.9,683.2 146.7,684.2 147.4,687.8 148.2,689.5 149.0,692.2 149.8,694.0 150.5,697.3 151.3,698.7 152.1,701.7 152.8,703.2 153.6,706.0 154.4,708.1 155.1,710.5 155.9,711.3 156.7,713.3 157.5,714.4 158.2,717.5 159.0,718.8 159.8,720.6 160.5,722.6 161.3,724.5 162.1,726.3 162.9,728.7 163.6,730.8 164.4,732.2 165.2,733.3 165.9,734.4 166.7,735.6 167.5,736.4 168.2,737.4 169.0,738.2 169.8,739.5 170.6,739.8 171.3,739.8 172.1,742.3 172.9,743.4 173.6,742.0 174.4,744.2 175.2,744.2 175.9,745.0 176.7,747.5 177.5,745.1 178.3,746.4 179.0,748.6 179.8,748.7 180.6,750.0 181.3,751.7 182.1,751.7 182.9,752.0 183.7,752.0 184.4,753.1 185.2,754.4 186.0,753.9 186.7,756.5 187.5,755.6 188.3,755.9 189.0,757.8 189.8,759.8 190.6,759.5 191.4,759.0 192.1,759.3 192.9,758.9 193.7,761.9 194.4,761.5 195.2,761.5 196.0,762.8 196.7,765.5 197.5,763.0 198.3,762.2 199.1,764.0 199.8,766.4 200.6,766.3 201.4,766.1 202.1,764.3 202.9,766.5 203.7,767.3 204.5,766.4 205.2,768.3 206.0,766.8 206.8,769.6 207.5,769.8 208.3,769.0 209.1,768.7 209.8,769.8 210.6,770.5 211.4,772.9 212.2,772.2 212.9,772.5 213.7,772.8 214.5,772.1 215.2,773.4 216.0,772.7 216.8,773.7 217.5,774.5 218.3,774.4 219.1,774.5 219.9,774.4 220.6,776.0 221.4,776.0 222.2,777.4 222.9,774.9 223.7,775.3 224.5,777.1 225.3,777.7 226.0,778.7 226.8,777.7 227.6,777.9 228.3,776.3 229.1,778.4 229.9,779.7 230.6,781.5 231.4,778.2 232.2,779.6 233.0,781.6 233.7,780.2 234.5,782.1 235.3,777.6 236.0,780.1 236.8,780.9 237.6,781.9 238.3,784.0 239.1,782.4 239.9,784.0 240.7,782.3 241.4,785.1 242.2,784.3 243.0,782.5 243.7,782.4 244.5,785.2 245.3,785.6 246.1,783.5 246.8,783.6 247.6,785.5 248.4,785.3 249.1,785.4 249.9,786.0 250.7,785.7 251.4,784.0 252.2,784.6 253.0,783.5 253.8,785.6 254.5,785.8 255.3,786.7 256.1,786.0 256.8,787.2 257.6,787.8 258.4,785.6 259.2,785.0 259.9,785.7 260.7,785.3 261.5,786.5 262.2,787.5 263.0,786.9 263.8,787.5 264.5,788.3 265.3,788.9 266.1,788.9 266.9,787.6 267.6,787.5 268.4,788.1 269.2,786.4 269.9,787.7 270.7,787.4 271.5,786.9 272.2,788.9 273.0,790.0 273.8,787.5 274.6,789.0 275.3,787.2 276.1,788.2 276.9,787.6 277.6,787.9 278.4,790.7 279.2,788.1 280.0,789.5 280.7,789.7 281.5,789.5 282.3,788.4 283.0,788.4 283.8,788.4 284.6,791.0 285.3,790.1 286.1,791.8 286.9,789.8 287.7,789.2 288.4,790.5 289.2,789.6 290.0,789.7 290.7,789.0 291.5,790.8 292.3,790.8 293.0,790.8 293.8,788.5 294.6,789.1 295.4,790.3 296.1,790.1 296.9,790.2 297.7,790.2 298.4,790.6 299.2,790.8 300.0,791.7 300.8,791.2 301.5,789.1 302.3,790.2 303.1,790.7 303.8,791.0 304.6,790.8 305.4,790.6 306.1,791.6 306.9,790.9 307.7,790.9 308.5,791.9 309.2,792.0 310.0,792.2 310.8,792.4 311.5,790.6 312.3,793.7 313.1,791.8 313.8,792.2 314.6,792.3 315.4,791.6 316.2,790.7 316.9,791.8 317.7,792.1 318.5,792.6 319.2,792.2 320.0,791.3 320.8,792.6 321.6,793.3 322.3,793.5 323.1,793.4 323.9,793.8 324.6,791.5 325.4,792.2 326.2,792.9 326.9,791.3 327.7,793.4 328.5,792.1 329.3,792.1 330.0,794.4 330.8,794.5 331.6,794.0 332.3,792.3 333.1,792.0 333.9,794.5 334.6,792.5 335.4,793.9 336.2,794.0 337.0,794.2 337.7,794.1 338.5,795.6 339.3,794.9 340.0,795.3 340.8,793.7 341.6,792.3 342.4,791.8 343.1,794.8 343.9,796.1 344.7,795.0 345.4,795.6 346.2,792.9 347.0,794.3 347.7,795.6 348.5,794.1 349.3,794.6 350.1,796.7 350.8,795.8 351.6,795.6 352.4,795.4 353.1,795.4 353.9,795.9 354.7,795.5 355.5,796.3 356.2,796.7 357.0,794.5 357.8,795.6 358.5,795.6 359.3,797.6 360.1,796.4 360.8,795.5 361.6,797.6 362.4,795.4 363.2,796.9 363.9,796.2 364.7,796.8 365.5,796.5 366.2,795.6 367.0,797.2 367.8,795.4 368.5,797.7 369.3,797.9 370.1,796.4 370.9,798.2 371.6,797.6 372.4,796.4 373.2,796.2 373.9,799.1 374.7,797.0 375.5,795.8 376.3,796.5 377.0,797.9 377.8,798.3 378.6,798.1 379.3,799.0 380.1,798.2 380.9,798.2 381.6,798.2 382.4,797.0 383.2,798.4 384.0,799.6 384.7,797.3 385.5,799.4 386.3,798.8 387.0,798.6 387.8,798.9 388.6,799.5 389.3,798.9 390.1,796.7 390.9,799.3 391.7,799.0 392.4,797.8 393.2,798.2 394.0,798.3 394.7,798.2 395.5,801.0 396.3,800.0 397.1,799.1 397.8,798.8 398.6,798.1 399.4,799.0 400.1,799.7 400.9,799.5 401.7,799.8 402.4,799.4 403.2,799.1 404.0,800.1 404.8,800.6 405.5,800.7 406.3,798.9 407.1,798.8 407.8,799.1 408.6,799.3 409.4,799.4 410.1,800.2 410.9,799.7 411.7,801.3 412.5,800.6 413.2,801.2 414.0,799.8 414.8,801.1 415.5,800.7 416.3,800.3 417.1,799.5 417.9,801.6 418.6,801.8 419.4,800.2 420.2,802.0 420.9,800.6 421.7,801.6 422.5,801.2 423.2,802.9 424.0,800.5 424.8,801.7 425.6,802.1 426.3,799.4 427.1,800.7 427.9,798.1 428.6,801.1 429.4,801.8 430.2,801.4 430.9,800.1 431.7,801.7 432.5,801.3 433.3,801.3 434.0,802.7 434.8,801.7 435.6,802.4 436.3,803.1 437.1,801.2 437.9,801.4 438.7,802.0 439.4,803.0 440.2,804.1 441.0,801.8 441.7,802.4 442.5,804.0 443.3,802.5 444.0,804.0 444.8,802.6 445.6,802.5 446.4,802.4 447.1,802.6 447.9,802.7 448.7,804.0 449.4,803.3 450.2,803.5 451.0,803.3 451.8,802.9 452.5,802.6 453.3,801.7 454.1,805.8 454.8,803.0 455.6,803.7 456.4,801.4 457.1,802.7 457.9,805.2 458.7,803.4 459.5,804.3 460.2,803.0 461.0,805.0 461.8,804.1 462.5,804.2 463.3,804.3 464.1,804.8 464.8,806.1 465.6,804.0 466.4,803.5 467.2,804.6 467.9,805.6 468.7,804.5 469.5,804.2 470.2,805.0 471.0,804.9 471.8,803.6 472.6,806.1 473.3,805.6 474.1,807.0 474.9,805.9 475.6,806.0 476.4,806.3 477.2,806.1 477.9,803.8 478.7,805.8 479.5,805.8 480.3,803.7 481.0,805.8 481.8,807.4 482.6,805.5 483.3,806.8 484.1,804.4 484.9,807.1 485.6,806.5 486.4,807.5 487.2,805.9 488.0,807.0 488.7,806.2 489.5,806.5 490.3,806.7 491.0,805.3 491.8,805.3 492.6,806.2 493.4,807.1 494.1,807.3 494.9,806.1 495.7,804.1 496.4,806.8 497.2,807.2 498.0,807.1 498.7,807.5 499.5,807.4 500.3,806.7 501.1,805.2 501.8,806.6 502.6,807.1 503.4,808.1 504.1,806.4 504.9,806.7 505.7,807.8 506.4,807.7 507.2,806.7 508.0,805.7 508.8,806.1 509.5,806.5 510.3,807.0 511.1,806.5 511.8,806.8 512.6,804.7 513.4,807.9 514.2,807.2 514.9,805.6 515.7,807.1 516.5,805.5 517.2,806.9 518.0,806.7 518.8,807.2 519.5,808.2 520.3,807.8 521.1,804.8 521.9,806.3 522.6,806.3 523.4,806.0 524.2,806.3 524.9,805.9 525.7,807.1 526.5,807.1 527.2,806.0 528.0,807.2 528.8,808.1 529.6,807.1 530.3,807.4 531.1,806.3 531.9,807.6 532.6,807.9 533.4,807.2 534.2,805.4 535.0,806.9 535.7,806.7 536.5,806.9 537.3,806.6 538.0,806.0 538.8,805.5 539.6,808.4 540.3,805.6 541.1,806.8 541.9,807.1 542.7,804.5 543.4,807.0 544.2,804.9 545.0,805.9 545.7,807.7 546.5,806.3 547.3,806.0 548.1,806.8 548.8,808.9 549.6,807.0 550.4,806.8 551.1,807.7 551.9,804.9 552.7,806.9 553.4,807.0 554.2,806.9 555.0,807.3 555.8,807.3 556.5,806.5 557.3,806.3 558.1,807.0 558.8,806.6 559.6,807.8 560.4,806.0 561.1,807.2 561.9,806.3 562.7,807.3 563.5,807.0 564.2,806.3 565.0,807.6 565.8,804.1 566.5,806.5 567.3,806.5 568.1,807.1 568.9,804.9 569.6,805.1 570.4,806.1 571.2,807.7 571.9,806.9 572.7,805.8 573.5,806.9 574.2,807.5 575.0,807.5 575.8,807.2 576.6,806.4 577.3,807.0 578.1,806.4 578.9,803.8 579.6,804.8 580.4,807.4 581.2,806.1 581.9,806.4 582.7,806.6 583.5,805.5 584.3,806.8 585.0,806.8 585.8,806.9 586.6,806.6 587.3,805.3 588.1,805.8 588.9,807.8 589.7,807.0 590.4,807.3 591.2,805.8 592.0,806.4 592.7,805.8 593.5,806.7 594.3,808.5 595.0,806.2 595.8,806.5 596.6,806.2 597.4,808.0 598.1,806.7 598.9,807.4 599.7,807.4 600.4,806.5 601.2,806.5 602.0,807.7 602.7,808.5 603.5,809.2 604.3,807.5 605.1,805.9 605.8,807.0 606.6,809.1 607.4,807.8 608.1,806.7 608.9,805.5 609.7,806.0 610.5,806.8 611.2,807.0 612.0,808.2 612.8,807.6 613.5,807.5 614.3,808.0 615.1,807.2 615.8,807.7 616.6,807.0 617.4,806.0" fill="none" stroke="#00f" stroke-width="11.5" stroke-linejoin="round" stroke-linecap="butt"/><polyline points="109.7,883.9 110.5,879.0 111.2,874.2 112.0,869.6 112.8,861.2 113.5,852.5 114.3,843.9 115.1,832.8 115.9,820.8 116.6,808.5 117.4,794.3 118.2,777.3 118.9,760.1 119.7,743.2 120.5,724.5 121.2,705.6 122.0,686.1 122.8,664.6 123.6,641.1 124.3,617.6 125.1,595.4 125.9,577.3 126.6,567.8 127.4,575.0 128.2,582.2 129.0,589.4 129.7,597.1 130.5,605.6 131.3,614.4 132.0,621.8 132.8,630.7 133.6,635.2 134.3,639.0 135.1,641.7 135.9,645.3 136.7,648.2 137.4,650.0 138.2,654.3 139.0,656.9 139.7,660.9 140.5,663.4 141.3,666.0 142.0,669.3 142.8,672.1 143.6,675.2 144.4,678.6 145.1,680.1 145.9,683.2 146.7,684.2 147.4,687.8 148.2,689.5 149.0,692.2 149.8,694.0 150.5,697.3 151.3,698.7 152.1,701.7 152.8,703.2 153.6,706.0 154.4,708.1 155.1,710.5 155.9,711.3 156.7,713.3 157.5,714.4 158.2,717.5 159.0,718.8 159.8,720.6 160.5,722.6 161.3,724.5 162.1,726.3 162.9,728.7 163.6,730.8 164.4,732.2 165.2,733.3 165.9,734.4 166.7,735.6 167.5,736.4 168.2,737.4 169.0,738.2 169.8,739.5 170.6,739.8 171.3,739.8 172.1,742.3 172.9,743.4 173.6,742.0 174.4,744.2 175.2,744.2 175.9,745.0 176.7,747.5 177.5,745.1 178.3,746.4 179.0,748.6 179.8,748.7 180.6,750.0 181.3,751.7 182.1,751.7 182.9,752.0 183.7,752.0 184.4,753.1 185.2,754.4 186.0,753.9 186.7,756.5 187.5,755.6 188.3,755.9 189.0,757.8 189.8,759.8 190.6,759.5 191.4,759.0 192.1,759.3 192.9,758.9 193.7,761.9 194.4,761.5 195.2,761.5 196.0,762.8 196.7,765.5 197.5,763.0 198.3,762.2 199.1,764.0 199.8,766.4 200.6,766.3 201.4,766.1 202.1,764.3 202.9,766.5 203.7,767.3 204.5,766.4 205.2,768.3 206.0,766.8 206.8,769.6 207.5,769.8 208.3,769.0 209.1,768.7 209.8,769.8 210.6,770.5 211.4,772.9 212.2,772.2 212.9,772.5 213.7,772.8 214.5,772.1 215.2,773.4 216.0,772.7 216.8,773.7 217.5,774.5 218.3,774.4 219.1,774.5 219.9,774.4 220.6,776.0 221.4,776.0 222.2,777.4 222.9,774.9 223.7,775.3 224.5,777.1 225.3,777.7 226.0,778.7 226.8,777.7 227.6,777.9 228.3,776.3 229.1,778.4 229.9,779.7 230.6,781.5 231.4,778.2 232.2,779.6 233.0,781.6 233.7,780.2 234.5,782.1 235.3,777.6 236.0,780.1 236.8,780.9 237.6,781.9 238.3,784.0 239.1,782.4 239.9,784.0 240.7,782.3 241.4,785.1 242.2,784.3 243.0,782.5 243.7,782.4 244.5,785.2 245.3,785.6 246.1,783.5 246.8,783.6 247.6,785.5 248.4,785.3 249.1,785.4 249.9,786.0 250.7,785.7 251.4,784.0 252.2,784.6 253.0,783.5 253.8,785.6 254.5,785.8 255.3,786.7 256.1,786.0 256.8,787.2 257.6,787.8 258.4,785.6 259.2,785.0 259.9,785.7 260.7,785.3 261.5,786.5 262.2,787.5 263.0,786.9 263.8,787.5 264.5,788.3 265.3,788.9 266.1,788.9 266.9,787.6 267.6,787.5 268.4,788.1 269.2,786.4 269.9,787.7 270.7,787.4 271.5,786.9 272.2,788.9 273.0,790.0 273.8,787.5 274.6,789.0 275.3,787.2 276.1,788.2 276.9,787.6 277.6,787.9 278.4,790.7 279.2,788.1 280.0,789.5 280.7,789.7 281.5,789.5 282.3,788.4 283.0,788.4 283.8,788.4 284.6,791.0 285.3,790.1 286.1,791.8 286.9,789.8 287.7,789.2 288.4,790.5 289.2,789.6 290.0,789.7 290.7,789.0 291.5,790.8 292.3,790.8 293.0,790.8 293.8,788.5 294.6,789.1 295.4,790.3 296.1,790.1 296.9,790.2 297.7,790.2 298.4,790.6 299.2,790.8 300.0,791.7 300.8,791.2 301.5,789.1 302.3,790.2 303.1,790.7 303.8,791.0 304.6,790.8 305.4,790.6 306.1,791.6 306.9,790.9 307.7,790.9 308.5,791.9 309.2,792.0 310.0,792.2 310.8,792.4 311.5,790.6 312.3,793.7 313.1,791.8 313.8,792.2 314.6,792.3 315.4,791.6 316.2,790.7 316.9,791.8 317.7,792.1 318.5,792.6 319.2,792.2 320.0,791.3 320.8,792.6 321.6,793.3 322.3,793.5 323.1,793.4 323.9,793.8 324.6,791.5 325.4,792.2 326.2,792.9 326.9,791.3 327.7,793.4 328.5,792.1 329.3,792.1 330.0,794.4 330.8,794.5 331.6,794.0 332.3,792.3 333.1,792.0 333.9,794.5 334.6,792.5 335.4,793.9 336.2,794.0 337.0,794.2 337.7,794.1 338.5,795.6 339.3,794.9 340.0,795.3 340.8,793.7 341.6,792.3 342.4,791.8 343.1,794.8 343.9,796.1 344.7,795.0 345.4,795.6 346.2,792.9 347.0,794.3 347.7,795.6 348.5,794.1 349.3,794.6 350.1,796.7 350.8,795.8 351.6,795.6 352.4,795.4 353.1,795.4 353.9,795.9 354.7,795.5 355.5,796.3 356.2,796.7 357.0,794.5 357.8,795.6 358.5,795.6 359.3,797.6 360.1,796.4 360.8,795.5 361.6,797.6 362.4,795.4 363.2,796.9 363.9,796.2 364.7,796.8 365.5,796.5 366.2,795.6 367.0,797.2 367.8,795.4 368.5,797.7 369.3,797.9 370.1,796.4 370.9,798.2 371.6,797.6 372.4,796.4 373.2,796.2 373.9,799.1 374.7,797.0 375.5,795.8 376.3,796.5 377.0,797.9 377.8,798.3 378.6,798.1 379.3,799.0 380.1,798.2 380.9,798.2 381.6,798.2 382.4,797.0 383.2,798.4 384.0,799.6 384.7,797.3 385.5,799.4 386.3,798.8 387.0,798.6 387.8,798.9 388.6,799.5 389.3,798.9 390.1,796.7 390.9,799.3 391.7,799.0 392.4,797.8 393.2,798.2 394.0,798.3 394.7,798.2 395.5,801.0 396.3,800.0 397.1,799.1 397.8,798.8 398.6,798.1 399.4,799.0 400.1,799.7 400.9,799.5 401.7,799.8 402.4,799.4 403.2,799.1 404.0,800.1 404.8,800.6 405.5,800.7 406.3,798.9 407.1,798.8 407.8,799.1 408.6,799.3 409.4,799.4 410.1,800.2 410.9,799.7 411.7,801.3 412.5,800.6 413.2,801.2 414.0,799.8 414.8,801.1 415.5,800.7 416.3,800.3 417.1,799.5 417.9,801.6 418.6,801.8 419.4,800.2 420.2,802.0 420.9,800.6 421.7,801.6 422.5,801.2 423.2,802.9 424.0,800.5 424.8,801.7 425.6,802.1 426.3,799.4 427.1,800.7 427.9,798.1 428.6,801.1 429.4,801.8 430.2,801.4 430.9,800.1 431.7,801.7 432.5,801.3 433.3,801.3 434.0,802.7 434.8,801.7 435.6,802.4 436.3,803.1 437.1,801.2 437.9,801.4 438.7,802.0 439.4,803.0 440.2,804.1 441.0,801.8 441.7,802.4 442.5,804.0 443.3,802.5 444.0,804.0 444.8,802.6 445.6,802.5 446.4,802.4 447.1,802.6 447.9,802.7 448.7,804.0 449.4,803.3 450.2,803.5 451.0,803.3 451.8,802.9 452.5,802.6 453.3,801.7 454.1,805.8 454.8,803.0 455.6,803.7 456.4,801.4 457.1,802.7 457.9,805.2 458.7,803.4 459.5,804.3 460.2,803.0 461.0,805.0 461.8,804.1 462.5,804.2 463.3,804.3 464.1,804.8 464.8,806.1 465.6,804.0 466.4,803.5 467.2,804.6 467.9,805.6 468.7,804.5 469.5,804.2 470.2,805.0 471.0,804.9 471.8,803.6 472.6,806.1 473.3,805.6 474.1,807.0 474.9,805.9 475.6,806.0 476.4,806.3 477.2,806.1 477.9,803.8 478.7,805.8 479.5,805.8 480.3,803.7 481.0,805.8 481.8,807.4 482.6,805.5 483.3,806.8 484.1,804.4 484.9,807.1 485.6,806.5 486.4,807.5 487.2,805.9 488.0,807.0 488.7,806.2 489.5,806.5 490.3,806.7 491.0,805.3 491.8,805.3 492.6,806.2 493.4,807.1 494.1,807.3 494.9,806.1 495.7,804.1 496.4,806.8 497.2,807.2 498.0,807.1 498.7,807.5 499.5,807.4 500.3,806.7 501.1,805.2 501.8,806.6 502.6,807.1 503.4,808.1 504.1,806.4 504.9,806.7 505.7,807.8 506.4,807.7 507.2,806.7 508.0,805.7 508.8,806.1 509.5,806.5 510.3,807.0 511.1,806.5 511.8,806.8 512.6,804.7 513.4,807.9 514.2,807.2 514.9,805.6 515.7,807.1 516.5,805.5 517.2,806.9 518.0,806.7 518.8,807.2 519.5,808.2 520.3,807.8 521.1,804.8 521.9,806.3 522.6,806.3 523.4,806.0 524.2,806.3 524.9,805.9 525.7,807.1 526.5,807.1 527.2,806.0 528.0,807.2 528.8,808.1 529.6,807.1 530.3,807.4 531.1,806.3 531.9,807.6 532.6,807.9 533.4,807.2 534.2,805.4 535.0,806.9 535.7,806.7 536.5,806.9 537.3,806.6 538.0,806.0 538.8,805.5 539.6,808.4 540.3,805.6 541.1,806.8 541.9,807.1 542.7,804.5 543.4,807.0 544.2,804.9 545.0,805.9 545.7,807.7 546.5,806.3 547.3,806.0 548.1,806.8 548.8,808.9 549.6,807.0 550.4,806.8 551.1,807.7 551.9,804.9 552.7,806.9 553.4,807.0 554.2,806.9 555.0,807.3 555.8,807.3 556.5,806.5 557.3,806.3 558.1,807.0 558.8,806.6 559.6,807.8 560.4,806.0 561.1,807.2 561.9,806.3 562.7,807.3 563.5,807.0 564.2,806.3 565.0,807.6 565.8,804.1 566.5,806.5 567.3,806.5 568.1,807.1 568.9,804.9 569.6,805.1 570.4,806.1 571.2,807.7 571.9,806.9 572.7,805.8 573.5,806.9 574.2,807.5 575.0,807.5 575.8,807.2 576.6,806.4 577.3,807.0 578.1,806.4 578.9,803.8 579.6,804.8 580.4,807.4 581.2,806.1 581.9,806.4 582.7,806.6 583.5,805.5 584.3,806.8 585.0,806.8 585.8,806.9 586.6,806.6 587.3,805.3 588.1,805.8 588.9,807.8 589.7,807.0 590.4,807.3 591.2,805.8 592.0,806.4 592.7,805.8 593.5,806.7 594.3,808.5 595.0,806.2 595.8,806.5 596.6,806.2 597.4,808.0 598.1,806.7 598.9,807.4 599.7,807.4 600.4,806.5 601.2,806.5 602.0,807.7 602.7,808.5 603.5,809.2 604.3,807.5 605.1,805.9 605.8,807.0 606.6,809.1 607.4,807.8 608.1,806.7 608.9,805.5 609.7,806.0 610.5,806.8 611.2,807.0 612.0,808.2 612.8,807.6 613.5,807.5 614.3,808.0 615.1,807.2 615.8,807.7 616.6,807.0 617.4,806.0" fill="none" stroke="#66f" stroke-width="1" stroke-linejoin="round" marker-start="url(#tr3)" marker-mid="url(#tr3)" marker-end="url(#tr3)"/></g><rect x="410" y="511.5" width="183" height="79.0" fill="#fff" stroke="#555" stroke-width="1.5"/><path d="M421,528.9 H463.5" stroke="#000" stroke-width="1.2"/><polyline points="442.2,528.9 442.2,528.9" fill="none" stroke="none" marker-start="url(#sq3)"/><text x="469.5" y="535.4" style="font-family:'Liberation Serif',serif;font-weight:bold;font-size:19.7px">Instantaneous</text><path d="M421,554.7 H463.5" stroke="#f66" stroke-width="1.2"/><polyline points="442.2,554.7 442.2,554.7" fill="none" stroke="none" marker-start="url(#ci3)"/><text x="469.5" y="561.2" style="font-family:'Liberation Serif',serif;font-weight:bold;font-size:19.7px">Progressive</text><path d="M421,579.7 H463.5" stroke="#99f" stroke-width="1.2"/><polyline points="442.2,579.7 442.2,579.7" fill="none" stroke="none" marker-start="url(#tr3)"/><text x="469.5" y="586.2" style="font-family:'Liberation Serif',serif;font-weight:bold;font-size:19.7px">E=-3.0</text><marker id="sq4" markerUnits="userSpaceOnUse" markerWidth="9.5" markerHeight="9.5" refX="4.75" refY="4.75" overflow="visible"><rect x="1" y="1" width="7.5" height="7.5" fill="#000"/></marker><marker id="ci4" markerUnits="userSpaceOnUse" markerWidth="11" markerHeight="11" refX="5.5" refY="5.5" overflow="visible"><circle cx="5.5" cy="5.5" r="4.5" fill="#f00"/></marker><marker id="tr4" markerUnits="userSpaceOnUse" markerWidth="12" markerHeight="11" refX="6.0" refY="6.3999999999999995" overflow="visible"><path d="M6.0,1 L11,10 L1,10Z" fill="#00f"/></marker><path d="M769,524.2 V888.8 H1266.0" fill="none" stroke="#444" stroke-width="2"/><path d="M769,888.8h-7 M769,858.5h-4 M769,828.2h-7 M769,797.9h-4 M769,767.6h-7 M769,737.3h-4 M769,707.0h-7 M769,676.7h-4 M769,646.4h-7 M769,616.1h-4 M769,585.8h-7 M769,555.5h-4 M769,525.2h-7 M769.0,888.8v7 M793.8,888.8v4 M818.6,888.8v7 M843.4,888.8v4 M868.2,888.8v7 M893.0,888.8v4 M917.8,888.8v7 M942.6,888.8v4 M967.4,888.8v7 M992.2,888.8v4 M1017.0,888.8v7 M1041.8,888.8v4 M1066.6,888.8v7 M1091.4,888.8v4 M1116.2,888.8v7 M1141.0,888.8v4 M1165.8,888.8v7 M1190.6,888.8v4 M1215.4,888.8v7 M1240.2,888.8v4 M1265.0,888.8v7" stroke="#444" stroke-width="2" fill="none"/><text x="756.5" y="894.9" text-anchor="end" style="font-family:'Liberation Serif',serif;font-weight:bold;font-size:23px">0.0</text><text x="756.5" y="834.3" text-anchor="end" style="font-family:'Liberation Serif',serif;font-weight:bold;font-size:23px">0.2</text><text x="756.5" y="773.7" text-anchor="end" style="font-family:'Liberation Serif',serif;font-weight:bold;font-size:23px">0.4</text><text x="756.5" y="713.1" text-anchor="end" style="font-family:'Liberation Serif',serif;font-weight:bold;font-size:23px">0.6</text><text x="756.5" y="652.5" text-anchor="end" style="font-family:'Liberation Serif',serif;font-weight:bold;font-size:23px">0.8</text><text x="756.5" y="591.9" text-anchor="end" style="font-family:'Liberation Serif',serif;font-weight:bold;font-size:23px">1.0</text><text x="756.5" y="531.3" text-anchor="end" style="font-family:'Liberation Serif',serif;font-weight:bold;font-size:23px">1.2</text><text x="769.0" y="919.8" text-anchor="middle" style="font-family:'Liberation Serif',serif;font-weight:bold;font-size:23px">0</text><text x="818.6" y="919.8" text-anchor="middle" style="font-family:'Liberation Serif',serif;font-weight:bold;font-size:23px">2</text><text x="868.2" y="919.8" text-anchor="middle" style="font-family:'Liberation Serif',serif;font-weight:bold;font-size:23px">4</text><text x="917.8" y="919.8" text-anchor="middle" style="font-family:'Liberation Serif',serif;font-weight:bold;font-size:23px">6</text><text x="967.4" y="919.8" text-anchor="middle" style="font-family:'Liberation Serif',serif;font-weight:bold;font-size:23px">8</text><text x="1017.0" y="919.8" text-anchor="middle" style="font-family:'Liberation Serif',serif;font-weight:bold;font-size:23px">10</text><text x="1066.6" y="919.8" text-anchor="middle" style="font-family:'Liberation Serif',serif;font-weight:bold;font-size:23px">12</text><text x="1116.2" y="919.8" text-anchor="middle" style="font-family:'Liberation Serif',serif;font-weight:bold;font-size:23px">14</text><text x="1165.8" y="919.8" text-anchor="middle" style="font-family:'Liberation Serif',serif;font-weight:bold;font-size:23px">16</text><text x="1215.4" y="919.8" text-anchor="middle" style="font-family:'Liberation Serif',serif;font-weight:bold;font-size:23px">18</text><text x="1265.0" y="919.8" text-anchor="middle" style="font-family:'Liberation Serif',serif;font-weight:bold;font-size:23px">20</text><text x="980.5" y="947.5" style="font-family:'Liberation Serif',serif;font-weight:bold;font-size:28.5px">(<tspan style="font-style:italic">t/t</tspan><tspan dy="11.5" style="font-size:17px">max</tspan><tspan dy="-11.5" dx="-0.5">)</tspan></text><text transform="translate(711,726.5) rotate(-90)" style="font-family:'Liberation Serif',serif;font-weight:bold;font-size:28.5px;letter-spacing:0.7px">(<tspan style="font-style:italic">j/j</tspan><tspan dy="11.5" style="font-size:17px">max</tspan><tspan dy="-11.5" dx="-0.5">)</tspan><tspan dy="-18.5" style="font-size:17px">2</tspan></text><clipPath id="cp4"><rect x="768" y="525.2" width="497.0" height="363.5999999999999"/></clipPath><g clip-path="url(#cp4)"><polyline points="769.0,888.8 773.2,743.4 781.4,631.2 785.6,599.1 791.8,585.8 818.6,638.8 843.4,700.4 868.2,742.7 893.0,770.8 917.8,790.2 942.6,804.2 967.4,814.8 992.2,823.0 1017.0,829.6 1041.8,835.0 1066.6,839.5 1091.4,843.3 1116.2,846.5 1141.0,849.3 1165.8,851.8 1190.6,854.0 1215.4,855.9 1240.2,857.6 1265.0,859.2" fill="none" stroke="#000" stroke-width="2.6" stroke-linejoin="round" marker-start="url(#sq4)" marker-mid="url(#sq4)" marker-end="url(#sq4)"/><polyline points="769.0,888.8 774.0,873.6 781.4,743.4 786.4,643.4 792.6,585.8 818.6,703.2 843.4,765.0 868.2,796.0 893.0,814.5 917.8,826.9 942.6,835.8 967.4,842.4 992.2,847.5 1017.0,851.7 1041.8,855.0 1066.6,857.9 1091.4,860.2 1116.2,862.3 1141.0,864.0 1165.8,865.6 1190.6,867.0 1215.4,868.2 1240.2,869.3 1265.0,870.2" fill="none" stroke="#f00" stroke-width="2.6" stroke-linejoin="round" marker-start="url(#ci4)" marker-mid="url(#ci4)" marker-end="url(#ci4)"/><polyline points="769.0,888.8 773.2,826.4 781.4,757.6 784.6,643.4 791.3,637.3 793.8,585.8 818.6,590.6 843.4,600.6 868.2,606.7 893.0,614.6 917.8,618.8 942.6,627.3 967.4,630.9 992.2,638.8 1017.0,641.9 1041.8,648.5 1066.6,651.9 1091.4,657.0 1116.2,659.1 1141.0,664.6 1165.8,667.0 1190.6,670.9 1215.4,673.1 1240.2,677.6 1265.0,679.1" fill="none" stroke="#00f" stroke-width="2.9" stroke-linejoin="round" marker-start="url(#tr4)" marker-mid="url(#tr4)" marker-end="url(#tr4)"/></g><rect x="1077.5" y="514" width="188.5" height="82" fill="#fff" stroke="#555" stroke-width="1.5"/><path d="M1088,532.5 H1130" stroke="#000" stroke-width="2.6"/><polyline points="1109,532.5 1109,532.5" fill="none" stroke="none" marker-start="url(#sq4)"/><text x="1135.3" y="539.4" style="font-family:'Liberation Serif',serif;font-weight:bold;font-size:21px">Instantaneous</text><path d="M1088,559.2 H1130" stroke="#f00" stroke-width="2.6"/><polyline points="1109,559.2 1109,559.2" fill="none" stroke="none" marker-start="url(#ci4)"/><text x="1135.3" y="566.1" style="font-family:'Liberation Serif',serif;font-weight:bold;font-size:21px">Progressive</text><path d="M1088,585.2 H1130" stroke="#00f" stroke-width="2.6"/><polyline points="1109,585.2 1109,585.2" fill="none" stroke="none" marker-start="url(#tr4)"/><text x="1135.3" y="592.1" style="font-family:'Liberation Serif',serif;font-weight:bold;font-size:21px">E=-0.35V</text>
</svg>
</body></html>
